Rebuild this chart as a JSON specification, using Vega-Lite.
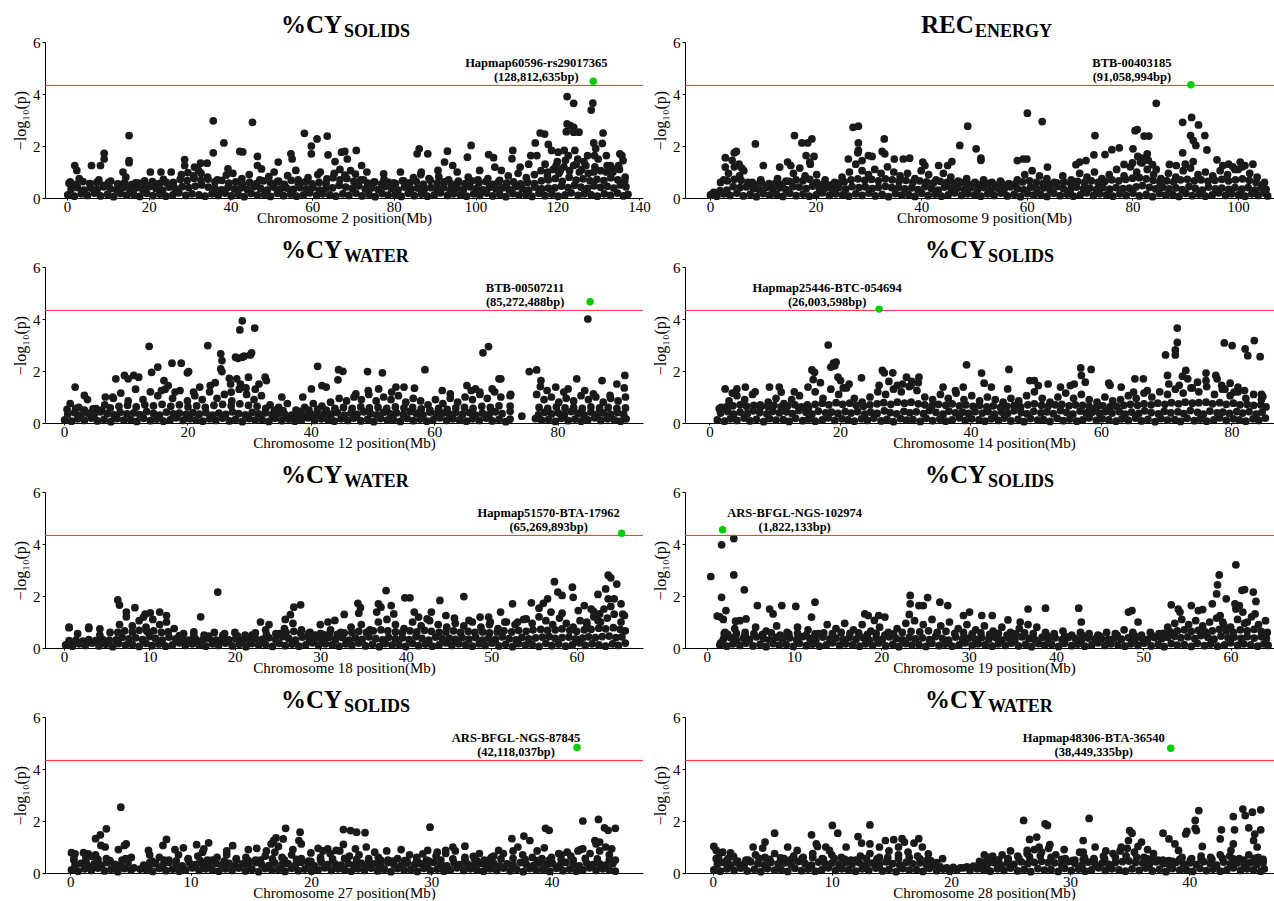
{
"$schema":"https://vega.github.io/schema/vega-lite/v6.json",
"background":"white",
"padding":{"left":12,"top":13,"right":0,"bottom":0},
"datasets":{
"c2":[
{"x":0.2,"y":0.12},{"x":1.8,"y":0.07},{"x":3.5,"y":0.16},{"x":5.0,"y":0.1},{"x":6.7,"y":0.19},{"x":8.2,"y":0.08},{"x":9.9,"y":0.14},{"x":11.4,"y":0.05},{"x":13.1,"y":0.17},{"x":14.6,"y":0.11},{"x":16.3,"y":0.13},{"x":17.8,"y":0.06},{"x":19.5,"y":0.18},{"x":21.0,"y":0.09},{"x":22.7,"y":0.15},{"x":24.2,"y":0.07},{"x":25.9,"y":0.12},{"x":27.4,"y":0.2},{"x":29.1,"y":0.1},{"x":30.6,"y":0.16},
{"x":32.3,"y":0.12},{"x":33.8,"y":0.07},{"x":35.5,"y":0.16},{"x":37.0,"y":0.1},{"x":38.7,"y":0.19},{"x":40.2,"y":0.08},{"x":41.9,"y":0.14},{"x":43.4,"y":0.05},{"x":45.1,"y":0.17},{"x":46.6,"y":0.11},{"x":48.3,"y":0.13},{"x":49.8,"y":0.06},{"x":51.5,"y":0.18},{"x":53.0,"y":0.09},{"x":54.7,"y":0.15},{"x":56.2,"y":0.07},{"x":57.9,"y":0.12},{"x":59.4,"y":0.2},{"x":61.1,"y":0.1},{"x":62.6,"y":0.16},
{"x":64.3,"y":0.12},{"x":65.8,"y":0.07},{"x":67.5,"y":0.16},{"x":69.0,"y":0.1},{"x":70.7,"y":0.19},{"x":72.2,"y":0.08},{"x":73.9,"y":0.14},{"x":75.4,"y":0.05},{"x":77.1,"y":0.17},{"x":78.6,"y":0.11},{"x":80.3,"y":0.13},{"x":81.8,"y":0.06},{"x":83.5,"y":0.18},{"x":85.0,"y":0.09},{"x":86.7,"y":0.15},{"x":88.2,"y":0.07},{"x":89.9,"y":0.12},{"x":91.4,"y":0.2},{"x":93.1,"y":0.1},{"x":94.6,"y":0.16},
{"x":96.3,"y":0.12},{"x":97.8,"y":0.07},{"x":99.5,"y":0.16},{"x":101.0,"y":0.1},{"x":102.7,"y":0.19},{"x":104.2,"y":0.08},{"x":105.9,"y":0.14},{"x":107.4,"y":0.05},{"x":109.1,"y":0.17},{"x":110.6,"y":0.11},{"x":112.3,"y":0.13},{"x":113.8,"y":0.06},{"x":115.5,"y":0.18},{"x":117.0,"y":0.09},{"x":118.7,"y":0.15},{"x":120.2,"y":0.07},{"x":121.9,"y":0.12},{"x":123.4,"y":0.2},{"x":125.1,"y":0.1},{"x":126.6,"y":0.16},
{"x":128.3,"y":0.12},{"x":129.8,"y":0.07},{"x":131.5,"y":0.16},{"x":133.0,"y":0.1},{"x":134.7,"y":0.19},{"x":136.2,"y":0.08},{"x":137.3,"y":0.14},
{"x":1.0,"y":0.34},{"x":2.6,"y":0.4},{"x":4.2,"y":0.3},{"x":5.8,"y":0.38},{"x":7.4,"y":0.33},{"x":9.0,"y":0.43},{"x":10.6,"y":0.36},{"x":12.2,"y":0.31},{"x":13.8,"y":0.41},{"x":15.4,"y":0.35},{"x":17.0,"y":0.39},{"x":18.6,"y":0.32},{"x":20.2,"y":0.44},{"x":21.8,"y":0.37},{"x":23.4,"y":0.3},{"x":25.0,"y":0.42},{"x":26.6,"y":0.35},{"x":28.2,"y":0.44},{"x":29.8,"y":0.4},{"x":31.4,"y":0.46},
{"x":33.0,"y":0.5},{"x":34.6,"y":0.42},{"x":36.2,"y":0.37},{"x":37.8,"y":0.31},{"x":39.4,"y":0.41},{"x":41.0,"y":0.35},{"x":42.6,"y":0.39},{"x":44.2,"y":0.32},{"x":45.8,"y":0.44},{"x":47.4,"y":0.37},{"x":49.0,"y":0.3},{"x":50.6,"y":0.42},{"x":52.2,"y":0.35},{"x":53.8,"y":0.38},{"x":55.4,"y":0.33},{"x":57.0,"y":0.4},{"x":58.6,"y":0.34},{"x":60.2,"y":0.4},{"x":61.8,"y":0.3},{"x":63.4,"y":0.38},
{"x":65.0,"y":0.39},{"x":66.6,"y":0.49},{"x":68.2,"y":0.42},{"x":69.8,"y":0.37},{"x":71.4,"y":0.47},{"x":73.0,"y":0.35},{"x":74.6,"y":0.39},{"x":76.2,"y":0.32},{"x":77.8,"y":0.44},{"x":79.4,"y":0.37},{"x":81.0,"y":0.3},{"x":82.6,"y":0.42},{"x":84.2,"y":0.35},{"x":85.8,"y":0.38},{"x":87.4,"y":0.33},{"x":89.0,"y":0.4},{"x":90.6,"y":0.34},{"x":92.2,"y":0.4},{"x":93.8,"y":0.3},{"x":95.4,"y":0.38},
{"x":97.0,"y":0.33},{"x":98.6,"y":0.43},{"x":100.2,"y":0.36},{"x":101.8,"y":0.31},{"x":103.4,"y":0.41},{"x":105.0,"y":0.35},{"x":106.6,"y":0.39},{"x":108.2,"y":0.32},{"x":109.8,"y":0.44},{"x":111.4,"y":0.37},{"x":113.0,"y":0.3},{"x":114.6,"y":0.42},{"x":116.2,"y":0.35},{"x":117.8,"y":0.38},{"x":119.4,"y":0.39},{"x":121.0,"y":0.46},{"x":122.6,"y":0.4},{"x":124.2,"y":0.49},{"x":125.8,"y":0.42},{"x":127.4,"y":0.37},
{"x":129.0,"y":0.47},{"x":130.6,"y":0.41},{"x":132.2,"y":0.45},{"x":133.8,"y":0.38},{"x":135.4,"y":0.5},{"x":136.8,"y":0.43},
{"x":0.5,"y":0.57},{"x":2.2,"y":0.52},{"x":3.9,"y":0.63},{"x":5.6,"y":0.55},{"x":7.3,"y":0.6},{"x":9.0,"y":0.49},{"x":10.7,"y":0.65},{"x":12.4,"y":0.54},{"x":14.1,"y":0.59},{"x":15.8,"y":0.51},{"x":17.5,"y":0.57},{"x":19.2,"y":0.52},{"x":20.9,"y":0.63},{"x":22.6,"y":0.55},{"x":24.3,"y":0.6},{"x":26.0,"y":0.49},{"x":27.7,"y":0.72},{"x":29.4,"y":0.67},{"x":31.1,"y":0.76},{"x":32.8,"y":0.68},
{"x":34.5,"y":0.73},{"x":36.2,"y":0.62},{"x":37.9,"y":0.68},{"x":39.6,"y":0.57},{"x":41.3,"y":0.62},{"x":43.0,"y":0.54},{"x":44.7,"y":0.6},{"x":46.4,"y":0.55},{"x":48.1,"y":0.66},{"x":49.8,"y":0.58},{"x":51.5,"y":0.63},{"x":53.2,"y":0.52},{"x":54.9,"y":0.68},{"x":56.6,"y":0.57},{"x":58.3,"y":0.62},{"x":60.0,"y":0.54},{"x":61.7,"y":0.6},{"x":63.4,"y":0.55},{"x":65.1,"y":0.78},{"x":66.8,"y":0.7},
{"x":68.5,"y":0.75},{"x":70.2,"y":0.64},{"x":71.9,"y":0.7},{"x":73.6,"y":0.57},{"x":75.3,"y":0.62},{"x":77.0,"y":0.54},{"x":78.7,"y":0.6},{"x":80.4,"y":0.55},{"x":82.1,"y":0.66},{"x":83.8,"y":0.58},{"x":85.5,"y":0.63},{"x":87.2,"y":0.52},{"x":88.9,"y":0.68},{"x":90.6,"y":0.57},{"x":92.3,"y":0.62},{"x":94.0,"y":0.54},{"x":95.7,"y":0.6},{"x":97.4,"y":0.55},{"x":99.1,"y":0.66},{"x":100.8,"y":0.58},
{"x":102.5,"y":0.63},{"x":104.2,"y":0.52},{"x":105.9,"y":0.68},{"x":107.6,"y":0.57},{"x":109.3,"y":0.62},{"x":111.0,"y":0.54},{"x":112.7,"y":0.6},{"x":114.4,"y":0.55},{"x":116.1,"y":0.66},{"x":117.8,"y":0.7},{"x":119.5,"y":0.75},{"x":121.2,"y":0.64},{"x":122.9,"y":0.8},{"x":124.6,"y":0.69},{"x":126.3,"y":0.74},{"x":128.0,"y":0.66},{"x":129.7,"y":0.72},{"x":131.4,"y":0.67},{"x":133.1,"y":0.78},{"x":134.8,"y":0.7},
{"x":136.5,"y":0.65},
{"x":0.8,"y":0.62},{"x":3.0,"y":0.75},{"x":5.6,"y":0.55},{"x":7.8,"y":0.7},{"x":10.2,"y":0.6},{"x":12.6,"y":0.52},{"x":14.4,"y":0.8},{"x":16.8,"y":0.58},{"x":19.0,"y":0.66},{"x":21.4,"y":0.55},{"x":23.6,"y":0.72},{"x":26.0,"y":0.6},{"x":28.0,"y":0.9},{"x":29.6,"y":0.98},{"x":31.0,"y":0.85},{"x":32.8,"y":0.95},{"x":34.4,"y":0.8},{"x":36.8,"y":0.7},{"x":39.0,"y":0.88},{"x":40.6,"y":0.95},
{"x":42.8,"y":0.75},{"x":44.6,"y":0.9},{"x":47.2,"y":0.7},{"x":49.4,"y":0.82},{"x":51.8,"y":0.65},{"x":54.0,"y":0.86},{"x":56.6,"y":0.7},{"x":59.0,"y":0.78},{"x":61.4,"y":0.9},{"x":63.6,"y":0.74},{"x":65.4,"y":0.95},{"x":66.8,"y":1.1},{"x":68.0,"y":0.88},{"x":69.4,"y":1.05},{"x":70.6,"y":0.92},{"x":72.6,"y":0.7},{"x":75.0,"y":0.6},{"x":77.6,"y":0.72},{"x":80.0,"y":0.58},{"x":82.4,"y":0.66},
{"x":84.8,"y":0.78},{"x":86.6,"y":0.9},{"x":88.6,"y":0.75},{"x":91.0,"y":0.82},{"x":93.4,"y":0.7},{"x":95.8,"y":0.65},{"x":98.2,"y":0.8},{"x":100.6,"y":0.7},{"x":103.0,"y":0.75},{"x":105.6,"y":0.62},{"x":108.0,"y":0.85},{"x":110.4,"y":0.95},{"x":112.4,"y":0.78},{"x":114.4,"y":0.9},{"x":116.0,"y":1.05},{"x":117.6,"y":0.85},{"x":119.0,"y":1.1},{"x":120.4,"y":0.95},{"x":121.6,"y":1.2},{"x":123.0,"y":1.05},
{"x":124.6,"y":1.3},{"x":126.0,"y":1.1},{"x":127.6,"y":0.95},{"x":129.2,"y":1.2},{"x":130.6,"y":1.05},{"x":132.2,"y":1.25},{"x":133.6,"y":1.0},{"x":135.2,"y":1.1},{"x":136.6,"y":0.8},
{"x":122.4,"y":3.9},{"x":124.0,"y":3.64},{"x":128.3,"y":3.38},{"x":128.7,"y":3.65},{"x":122.4,"y":2.85},{"x":123.2,"y":2.78},{"x":124.0,"y":2.72},{"x":122.2,"y":2.55},{"x":124.0,"y":2.53},{"x":125.3,"y":2.53},{"x":128.9,"y":2.12},{"x":129.4,"y":1.9},{"x":129.1,"y":1.63},{"x":131.2,"y":2.5},{"x":131.0,"y":2.1},{"x":115.8,"y":2.5},{"x":116.9,"y":2.46},{"x":114.6,"y":2.12},{"x":117.8,"y":2.06},{"x":120.2,"y":1.76},
{"x":35.8,"y":2.97},{"x":45.4,"y":2.91},{"x":15.2,"y":2.4},{"x":15.2,"y":1.44},{"x":15.2,"y":1.36},{"x":38.4,"y":2.12},{"x":35.8,"y":1.74},{"x":58.1,"y":2.49},{"x":61.2,"y":2.27},{"x":63.7,"y":2.38},{"x":63.9,"y":1.66},{"x":59.8,"y":2.0},{"x":59.8,"y":1.7},{"x":42.3,"y":1.79},{"x":43.0,"y":1.77},{"x":46.6,"y":1.6},{"x":46.6,"y":1.25},{"x":51.7,"y":1.38},{"x":54.8,"y":1.7},{"x":55.1,"y":1.5},
{"x":67.2,"y":1.76},{"x":68.0,"y":1.79},{"x":70.8,"y":1.83},{"x":72.1,"y":1.25},{"x":68.6,"y":1.5},{"x":65.6,"y":1.4},{"x":9.1,"y":1.72},{"x":9.1,"y":1.5},{"x":8.2,"y":1.25},{"x":1.9,"y":1.25},{"x":2.4,"y":1.06},{"x":28.8,"y":1.48},{"x":28.8,"y":1.25},{"x":31.2,"y":1.19},{"x":32.7,"y":1.34},{"x":34.3,"y":1.34},{"x":86.2,"y":1.89},{"x":85.7,"y":1.7},{"x":88.3,"y":1.7},{"x":93.1,"y":1.8},
{"x":92.4,"y":1.38},{"x":94.4,"y":1.25},{"x":98.0,"y":1.57},{"x":98.9,"y":2.02},{"x":103.2,"y":1.67},{"x":104.4,"y":1.55},{"x":104.7,"y":1.19},{"x":109.1,"y":1.83},{"x":108.9,"y":1.51},{"x":113.5,"y":1.63},{"x":115.0,"y":1.63},{"x":118.6,"y":1.83},{"x":135.3,"y":1.7},{"x":135.8,"y":1.63},{"x":136.1,"y":1.44},{"x":133.5,"y":1.12},{"x":121.7,"y":1.83},{"x":122.7,"y":1.63},{"x":124.3,"y":1.83},{"x":127.4,"y":1.63},
{"x":130.0,"y":1.5},{"x":132.0,"y":1.63},{"x":6.0,"y":1.25},{"x":23.0,"y":1.0},{"x":25.5,"y":1.0},{"x":32.2,"y":1.06},{"x":39.4,"y":1.12},{"x":47.6,"y":1.12},{"x":50.7,"y":1.0},{"x":56.0,"y":1.06},{"x":62.0,"y":1.0},{"x":73.4,"y":1.0},{"x":77.5,"y":0.93},{"x":81.6,"y":1.0},{"x":86.7,"y":1.0},{"x":90.8,"y":1.06},{"x":95.5,"y":1.0},{"x":101.0,"y":1.06},{"x":106.3,"y":1.06},{"x":110.9,"y":1.19},
{"x":113.0,"y":1.3},{"x":117.0,"y":1.3},{"x":119.7,"y":1.25},{"x":124.0,"y":1.25},{"x":127.0,"y":1.25},{"x":133.0,"y":1.25},{"x":135.0,"y":1.25},{"x":117.6,"y":1.0},{"x":120.7,"y":1.06},{"x":125.4,"y":1.0},{"x":128.9,"y":1.0},{"x":132.0,"y":1.0},{"x":13.7,"y":1.0},{"x":20.4,"y":1.0},{"x":122.0,"y":1.45},{"x":125.0,"y":1.5},{"x":120.0,"y":1.4},{"x":126.5,"y":1.4}
],
"c9":[
{"x":0.1,"y":0.12},{"x":1.3,"y":0.07},{"x":2.6,"y":0.16},{"x":3.8,"y":0.1},{"x":5.1,"y":0.19},{"x":6.3,"y":0.08},{"x":7.6,"y":0.14},{"x":8.8,"y":0.05},{"x":10.1,"y":0.17},{"x":11.3,"y":0.11},{"x":12.6,"y":0.13},{"x":13.8,"y":0.06},{"x":15.1,"y":0.18},{"x":16.3,"y":0.09},{"x":17.6,"y":0.15},{"x":18.8,"y":0.07},{"x":20.1,"y":0.12},{"x":21.3,"y":0.2},{"x":22.6,"y":0.1},{"x":23.8,"y":0.16},
{"x":25.1,"y":0.12},{"x":26.3,"y":0.07},{"x":27.6,"y":0.16},{"x":28.8,"y":0.1},{"x":30.1,"y":0.19},{"x":31.3,"y":0.08},{"x":32.6,"y":0.14},{"x":33.8,"y":0.05},{"x":35.1,"y":0.17},{"x":36.3,"y":0.11},{"x":37.6,"y":0.13},{"x":38.8,"y":0.06},{"x":40.1,"y":0.18},{"x":41.3,"y":0.09},{"x":42.6,"y":0.15},{"x":43.8,"y":0.07},{"x":45.1,"y":0.12},{"x":46.3,"y":0.2},{"x":47.6,"y":0.1},{"x":48.8,"y":0.16},
{"x":50.1,"y":0.12},{"x":51.3,"y":0.07},{"x":52.6,"y":0.16},{"x":53.8,"y":0.1},{"x":55.1,"y":0.19},{"x":56.3,"y":0.08},{"x":57.6,"y":0.14},{"x":58.8,"y":0.05},{"x":60.1,"y":0.17},{"x":61.3,"y":0.11},{"x":62.6,"y":0.13},{"x":63.8,"y":0.06},{"x":65.1,"y":0.18},{"x":66.3,"y":0.09},{"x":67.6,"y":0.15},{"x":68.8,"y":0.07},{"x":70.1,"y":0.12},{"x":71.3,"y":0.2},{"x":72.6,"y":0.1},{"x":73.8,"y":0.16},
{"x":75.1,"y":0.12},{"x":76.3,"y":0.07},{"x":77.6,"y":0.16},{"x":78.8,"y":0.1},{"x":80.1,"y":0.19},{"x":81.3,"y":0.08},{"x":82.6,"y":0.14},{"x":83.8,"y":0.05},{"x":85.1,"y":0.17},{"x":86.3,"y":0.11},{"x":87.6,"y":0.13},{"x":88.8,"y":0.06},{"x":90.1,"y":0.18},{"x":91.3,"y":0.09},{"x":92.6,"y":0.15},{"x":93.8,"y":0.07},{"x":95.1,"y":0.12},{"x":96.3,"y":0.2},{"x":97.6,"y":0.1},{"x":98.8,"y":0.16},
{"x":100.1,"y":0.12},{"x":101.3,"y":0.07},{"x":102.6,"y":0.16},{"x":103.8,"y":0.1},{"x":105.0,"y":0.19},{"x":105.6,"y":0.08},
{"x":0.7,"y":0.22},{"x":1.9,"y":0.28},{"x":3.2,"y":0.3},{"x":4.4,"y":0.44},{"x":5.7,"y":0.4},{"x":6.9,"y":0.43},{"x":8.2,"y":0.36},{"x":9.4,"y":0.31},{"x":10.7,"y":0.41},{"x":11.9,"y":0.35},{"x":13.2,"y":0.39},{"x":14.4,"y":0.32},{"x":15.7,"y":0.44},{"x":16.9,"y":0.42},{"x":18.2,"y":0.36},{"x":19.4,"y":0.46},{"x":20.7,"y":0.35},{"x":21.9,"y":0.38},{"x":23.2,"y":0.33},{"x":24.4,"y":0.4},
{"x":25.7,"y":0.34},{"x":26.9,"y":0.44},{"x":28.2,"y":0.4},{"x":29.4,"y":0.43},{"x":30.7,"y":0.36},{"x":31.9,"y":0.41},{"x":33.2,"y":0.45},{"x":34.4,"y":0.4},{"x":35.7,"y":0.41},{"x":36.9,"y":0.35},{"x":38.2,"y":0.39},{"x":39.4,"y":0.32},{"x":40.7,"y":0.44},{"x":41.9,"y":0.37},{"x":43.2,"y":0.3},{"x":44.4,"y":0.42},{"x":45.7,"y":0.35},{"x":46.9,"y":0.38},{"x":48.2,"y":0.33},{"x":49.4,"y":0.4},
{"x":50.7,"y":0.34},{"x":51.9,"y":0.4},{"x":53.2,"y":0.3},{"x":54.4,"y":0.38},{"x":55.7,"y":0.33},{"x":56.9,"y":0.43},{"x":58.2,"y":0.36},{"x":59.4,"y":0.31},{"x":60.7,"y":0.41},{"x":61.9,"y":0.35},{"x":63.2,"y":0.39},{"x":64.4,"y":0.32},{"x":65.7,"y":0.44},{"x":66.9,"y":0.37},{"x":68.2,"y":0.3},{"x":69.4,"y":0.42},{"x":70.7,"y":0.35},{"x":71.9,"y":0.38},{"x":73.2,"y":0.33},{"x":74.4,"y":0.4},
{"x":75.7,"y":0.34},{"x":76.9,"y":0.4},{"x":78.2,"y":0.36},{"x":79.4,"y":0.38},{"x":80.7,"y":0.43},{"x":81.9,"y":0.48},{"x":83.2,"y":0.41},{"x":84.4,"y":0.35},{"x":85.7,"y":0.41},{"x":86.9,"y":0.35},{"x":88.2,"y":0.39},{"x":89.4,"y":0.32},{"x":90.7,"y":0.44},{"x":91.9,"y":0.37},{"x":93.2,"y":0.3},{"x":94.4,"y":0.42},{"x":95.7,"y":0.35},{"x":96.9,"y":0.38},{"x":98.2,"y":0.33},{"x":99.4,"y":0.4},
{"x":100.7,"y":0.34},{"x":101.9,"y":0.4},{"x":103.2,"y":0.3},{"x":104.4,"y":0.38},{"x":105.3,"y":0.33},
{"x":2.0,"y":0.6},{"x":3.3,"y":0.66},{"x":4.6,"y":0.72},{"x":5.9,"y":0.68},{"x":7.2,"y":0.6},{"x":8.5,"y":0.52},{"x":9.8,"y":0.58},{"x":11.1,"y":0.5},{"x":12.4,"y":0.56},{"x":13.7,"y":0.52},{"x":15.0,"y":0.64},{"x":16.3,"y":0.7},{"x":17.6,"y":0.66},{"x":18.9,"y":0.72},{"x":20.2,"y":0.6},{"x":21.5,"y":0.55},{"x":22.8,"y":0.5},{"x":24.1,"y":0.56},{"x":25.4,"y":0.62},{"x":26.7,"y":0.7},
{"x":28.0,"y":0.74},{"x":29.3,"y":0.68},{"x":30.6,"y":0.72},{"x":31.9,"y":0.66},{"x":33.2,"y":0.74},{"x":34.5,"y":0.7},{"x":35.8,"y":0.64},{"x":37.1,"y":0.68},{"x":38.4,"y":0.6},{"x":39.7,"y":0.66},{"x":41.0,"y":0.62},{"x":42.3,"y":0.58},{"x":43.6,"y":0.64},{"x":44.9,"y":0.6},{"x":46.2,"y":0.56},{"x":47.5,"y":0.6},{"x":48.8,"y":0.54},{"x":50.1,"y":0.58},{"x":51.4,"y":0.52},{"x":52.7,"y":0.56},
{"x":54.0,"y":0.5},{"x":55.3,"y":0.55},{"x":56.6,"y":0.5},{"x":57.9,"y":0.56},{"x":59.2,"y":0.62},{"x":60.5,"y":0.66},{"x":61.8,"y":0.6},{"x":63.1,"y":0.56},{"x":64.4,"y":0.52},{"x":65.7,"y":0.58},{"x":67.0,"y":0.62},{"x":68.3,"y":0.56},{"x":69.6,"y":0.64},{"x":70.9,"y":0.6},{"x":72.2,"y":0.66},{"x":73.5,"y":0.6},{"x":74.8,"y":0.64},{"x":76.1,"y":0.7},{"x":77.4,"y":0.66},{"x":78.7,"y":0.72},
{"x":80.0,"y":0.76},{"x":81.3,"y":0.78},{"x":82.6,"y":0.74},{"x":83.9,"y":0.68},{"x":85.2,"y":0.6},{"x":86.5,"y":0.66},{"x":87.8,"y":0.62},{"x":89.1,"y":0.7},{"x":90.4,"y":0.72},{"x":91.7,"y":0.66},{"x":93.0,"y":0.7},{"x":94.3,"y":0.64},{"x":95.6,"y":0.68},{"x":96.9,"y":0.72},{"x":98.2,"y":0.66},{"x":99.5,"y":0.7},{"x":100.8,"y":0.74},{"x":102.1,"y":0.68},{"x":103.4,"y":0.6},{"x":104.7,"y":0.52},
{"x":2.6,"y":0.7},{"x":3.5,"y":0.95},{"x":4.6,"y":1.2},{"x":5.6,"y":0.85},{"x":6.4,"y":1.05},{"x":8.0,"y":0.6},{"x":9.6,"y":0.7},{"x":11.2,"y":0.55},{"x":12.8,"y":0.75},{"x":14.4,"y":0.65},{"x":15.8,"y":0.95},{"x":17.0,"y":1.15},{"x":18.0,"y":0.85},{"x":19.0,"y":1.3},{"x":20.2,"y":0.9},{"x":21.8,"y":0.7},{"x":23.6,"y":0.6},{"x":25.0,"y":0.8},{"x":26.4,"y":1.0},{"x":27.6,"y":1.3},
{"x":28.8,"y":1.05},{"x":30.0,"y":0.9},{"x":31.2,"y":1.1},{"x":32.4,"y":0.95},{"x":33.6,"y":1.2},{"x":34.8,"y":1.0},{"x":36.0,"y":0.85},{"x":37.4,"y":0.95},{"x":38.8,"y":0.75},{"x":40.0,"y":1.05},{"x":41.4,"y":0.9},{"x":42.8,"y":0.7},{"x":44.2,"y":0.95},{"x":45.6,"y":0.8},{"x":47.0,"y":0.65},{"x":48.6,"y":0.75},{"x":50.2,"y":0.6},{"x":51.8,"y":0.7},{"x":53.4,"y":0.6},{"x":55.0,"y":0.65},
{"x":56.6,"y":0.55},{"x":58.2,"y":0.7},{"x":59.6,"y":0.9},{"x":61.0,"y":1.05},{"x":62.4,"y":0.85},{"x":63.8,"y":0.75},{"x":65.2,"y":0.6},{"x":66.8,"y":0.85},{"x":68.4,"y":0.7},{"x":70.0,"y":0.95},{"x":71.4,"y":0.8},{"x":72.8,"y":1.0},{"x":74.2,"y":0.75},{"x":75.6,"y":0.9},{"x":77.0,"y":1.1},{"x":78.4,"y":0.85},{"x":79.6,"y":1.2},{"x":80.8,"y":1.0},{"x":81.8,"y":1.35},{"x":82.8,"y":1.1},
{"x":84.0,"y":0.9},{"x":85.4,"y":0.75},{"x":86.8,"y":0.95},{"x":88.2,"y":0.8},{"x":89.6,"y":1.05},{"x":91.0,"y":1.15},{"x":92.4,"y":0.9},{"x":93.8,"y":1.0},{"x":95.2,"y":0.85},{"x":96.6,"y":1.05},{"x":98.0,"y":0.9},{"x":99.4,"y":1.1},{"x":100.8,"y":1.2},{"x":102.2,"y":0.95},{"x":103.6,"y":0.8},{"x":105.0,"y":0.6},
{"x":84.5,"y":3.64},{"x":60.1,"y":3.26},{"x":62.9,"y":2.94},{"x":91.2,"y":3.1},{"x":89.5,"y":2.91},{"x":92.5,"y":2.81},{"x":91.0,"y":2.4},{"x":91.5,"y":2.21},{"x":92.0,"y":2.02},{"x":93.7,"y":2.4},{"x":94.1,"y":1.85},{"x":89.5,"y":1.74},{"x":80.5,"y":2.59},{"x":80.9,"y":2.63},{"x":82.2,"y":2.38},{"x":83.1,"y":2.38},{"x":80.1,"y":1.89},{"x":72.9,"y":2.4},{"x":72.7,"y":1.66},{"x":71.2,"y":1.44},
{"x":76.1,"y":1.86},{"x":77.5,"y":1.93},{"x":78.4,"y":1.29},{"x":74.8,"y":1.67},{"x":48.8,"y":2.76},{"x":47.3,"y":2.02},{"x":50.4,"y":1.89},{"x":51.3,"y":1.53},{"x":51.3,"y":1.45},{"x":27.1,"y":2.72},{"x":28.1,"y":2.76},{"x":28.1,"y":2.12},{"x":28.1,"y":1.83},{"x":28.0,"y":1.74},{"x":33.0,"y":2.27},{"x":32.6,"y":1.79},{"x":33.1,"y":1.7},{"x":16.0,"y":2.4},{"x":17.4,"y":2.12},{"x":18.5,"y":2.12},
{"x":19.3,"y":2.27},{"x":18.2,"y":1.63},{"x":19.7,"y":1.6},{"x":18.9,"y":1.38},{"x":8.6,"y":2.08},{"x":5.0,"y":1.79},{"x":4.6,"y":1.74},{"x":2.9,"y":1.55},{"x":2.9,"y":1.19},{"x":96.0,"y":1.47},{"x":98.2,"y":1.3},{"x":100.4,"y":1.38},{"x":97.1,"y":1.25},{"x":26.2,"y":1.5},{"x":30.0,"y":1.63},{"x":28.8,"y":1.44},{"x":30.7,"y":1.6},{"x":34.9,"y":1.5},{"x":36.6,"y":1.5},{"x":37.8,"y":1.53},
{"x":40.3,"y":1.38},{"x":40.7,"y":1.25},{"x":43.3,"y":1.25},{"x":45.8,"y":1.4},{"x":45.0,"y":1.25},{"x":58.2,"y":1.44},{"x":59.3,"y":1.5},{"x":60.0,"y":1.5},{"x":63.9,"y":1.19},{"x":69.3,"y":1.28},{"x":70.0,"y":1.38},{"x":10.1,"y":1.25},{"x":13.2,"y":1.19},{"x":14.7,"y":1.38},{"x":15.3,"y":1.25},{"x":87.0,"y":1.29},{"x":88.3,"y":1.25},{"x":83.8,"y":1.28},{"x":82.8,"y":1.7},{"x":81.5,"y":1.38},
{"x":81.8,"y":1.53},{"x":102.8,"y":1.3},{"x":101.3,"y":1.25},{"x":5.5,"y":1.3},{"x":6.0,"y":1.15},{"x":4.2,"y":1.45},{"x":81.0,"y":1.6},{"x":82.0,"y":1.5},{"x":83.0,"y":1.45},{"x":80.0,"y":1.35},{"x":84.5,"y":1.1},{"x":90.0,"y":1.3},{"x":91.5,"y":1.4},{"x":99.0,"y":1.2},{"x":100.0,"y":1.1}
],
"c12":[
{"x":0.1,"y":0.12},{"x":1.2,"y":0.07},{"x":2.2,"y":0.16},{"x":3.3,"y":0.1},{"x":4.4,"y":0.19},{"x":5.4,"y":0.08},{"x":6.5,"y":0.14},{"x":7.6,"y":0.05},{"x":8.6,"y":0.17},{"x":9.7,"y":0.11},{"x":10.8,"y":0.13},{"x":11.8,"y":0.06},{"x":12.9,"y":0.18},{"x":14.0,"y":0.09},{"x":15.0,"y":0.15},{"x":16.1,"y":0.07},{"x":17.2,"y":0.12},{"x":18.2,"y":0.2},{"x":19.3,"y":0.1},{"x":20.4,"y":0.16},
{"x":21.4,"y":0.12},{"x":22.5,"y":0.07},{"x":23.6,"y":0.16},{"x":24.6,"y":0.1},{"x":25.7,"y":0.19},{"x":26.8,"y":0.08},{"x":27.8,"y":0.14},{"x":28.9,"y":0.05},{"x":30.0,"y":0.17},{"x":31.0,"y":0.11},{"x":32.1,"y":0.13},{"x":33.2,"y":0.06},{"x":34.2,"y":0.18},{"x":35.3,"y":0.09},{"x":36.4,"y":0.15},{"x":37.4,"y":0.07},{"x":38.5,"y":0.12},{"x":39.6,"y":0.2},{"x":40.6,"y":0.1},{"x":41.7,"y":0.16},
{"x":42.8,"y":0.12},{"x":43.8,"y":0.07},{"x":44.9,"y":0.16},{"x":46.0,"y":0.1},{"x":47.0,"y":0.19},{"x":48.1,"y":0.08},{"x":49.2,"y":0.14},{"x":50.2,"y":0.05},{"x":51.3,"y":0.17},{"x":52.4,"y":0.11},{"x":53.4,"y":0.13},{"x":54.5,"y":0.06},{"x":55.6,"y":0.18},{"x":56.6,"y":0.09},{"x":57.7,"y":0.15},{"x":58.8,"y":0.07},{"x":59.8,"y":0.12},{"x":60.9,"y":0.2},{"x":62.0,"y":0.1},{"x":63.0,"y":0.16},
{"x":64.1,"y":0.12},{"x":65.2,"y":0.07},{"x":66.2,"y":0.16},{"x":67.3,"y":0.1},{"x":68.4,"y":0.19},{"x":69.4,"y":0.08},{"x":70.5,"y":0.14},{"x":71.6,"y":0.05},{"x":76.4,"y":0.17},{"x":77.4,"y":0.11},{"x":78.5,"y":0.13},{"x":79.6,"y":0.06},{"x":80.6,"y":0.18},{"x":81.7,"y":0.09},{"x":82.8,"y":0.15},{"x":83.8,"y":0.07},{"x":84.9,"y":0.12},{"x":86.0,"y":0.2},{"x":87.0,"y":0.1},{"x":88.1,"y":0.16},
{"x":89.2,"y":0.12},{"x":90.2,"y":0.07},{"x":91.1,"y":0.16},
{"x":0.6,"y":0.34},{"x":1.7,"y":0.4},{"x":2.7,"y":0.3},{"x":3.8,"y":0.38},{"x":4.9,"y":0.33},{"x":5.9,"y":0.43},{"x":7.0,"y":0.36},{"x":8.1,"y":0.31},{"x":9.1,"y":0.41},{"x":10.2,"y":0.35},{"x":11.3,"y":0.39},{"x":12.3,"y":0.32},{"x":13.4,"y":0.44},{"x":14.5,"y":0.37},{"x":15.5,"y":0.3},{"x":16.6,"y":0.42},{"x":17.7,"y":0.35},{"x":18.7,"y":0.38},{"x":19.8,"y":0.33},{"x":20.9,"y":0.4},
{"x":21.9,"y":0.34},{"x":23.0,"y":0.4},{"x":24.1,"y":0.3},{"x":25.1,"y":0.38},{"x":26.2,"y":0.33},{"x":27.3,"y":0.43},{"x":28.3,"y":0.36},{"x":29.4,"y":0.31},{"x":30.5,"y":0.41},{"x":31.5,"y":0.35},{"x":32.6,"y":0.39},{"x":33.7,"y":0.32},{"x":34.7,"y":0.36},{"x":35.8,"y":0.33},{"x":36.9,"y":0.3},{"x":37.9,"y":0.28},{"x":39.0,"y":0.3},{"x":40.1,"y":0.33},{"x":41.1,"y":0.3},{"x":42.2,"y":0.36},
{"x":43.3,"y":0.34},{"x":44.3,"y":0.4},{"x":45.4,"y":0.3},{"x":46.5,"y":0.38},{"x":47.5,"y":0.33},{"x":48.6,"y":0.43},{"x":49.7,"y":0.36},{"x":50.7,"y":0.31},{"x":51.8,"y":0.41},{"x":52.9,"y":0.35},{"x":53.9,"y":0.39},{"x":55.0,"y":0.32},{"x":56.1,"y":0.44},{"x":57.1,"y":0.37},{"x":58.2,"y":0.3},{"x":59.3,"y":0.42},{"x":60.3,"y":0.35},{"x":61.4,"y":0.38},{"x":62.5,"y":0.33},{"x":63.5,"y":0.4},
{"x":64.6,"y":0.34},{"x":65.7,"y":0.4},{"x":66.7,"y":0.3},{"x":67.8,"y":0.38},{"x":68.9,"y":0.33},{"x":69.9,"y":0.43},{"x":71.0,"y":0.36},{"x":76.9,"y":0.31},{"x":77.9,"y":0.41},{"x":79.0,"y":0.35},{"x":80.1,"y":0.39},{"x":81.1,"y":0.32},{"x":82.2,"y":0.44},{"x":83.3,"y":0.37},{"x":84.3,"y":0.3},{"x":85.4,"y":0.42},{"x":86.5,"y":0.35},{"x":87.5,"y":0.38},{"x":88.6,"y":0.33},{"x":89.7,"y":0.4},
{"x":90.7,"y":0.34},
{"x":0.5,"y":0.52},{"x":1.9,"y":0.56},{"x":3.3,"y":0.5},{"x":4.7,"y":0.54},{"x":6.1,"y":0.5},{"x":7.5,"y":0.58},{"x":8.9,"y":0.64},{"x":10.3,"y":0.68},{"x":11.7,"y":0.62},{"x":13.1,"y":0.7},{"x":14.5,"y":0.66},{"x":15.9,"y":0.72},{"x":17.3,"y":0.64},{"x":18.7,"y":0.7},{"x":20.1,"y":0.62},{"x":21.5,"y":0.66},{"x":22.9,"y":0.6},{"x":24.3,"y":0.68},{"x":25.7,"y":0.72},{"x":27.1,"y":0.66},
{"x":28.5,"y":0.74},{"x":29.9,"y":0.68},{"x":31.3,"y":0.64},{"x":32.7,"y":0.56},{"x":34.1,"y":0.5},{"x":35.5,"y":0.48},{"x":38.3,"y":0.45},{"x":39.7,"y":0.5},{"x":41.1,"y":0.52},{"x":42.5,"y":0.5},{"x":43.9,"y":0.56},{"x":45.3,"y":0.6},{"x":46.7,"y":0.56},{"x":48.1,"y":0.62},{"x":49.5,"y":0.58},{"x":50.9,"y":0.6},{"x":52.3,"y":0.56},{"x":53.7,"y":0.62},{"x":55.1,"y":0.58},{"x":56.5,"y":0.6},
{"x":57.9,"y":0.54},{"x":59.3,"y":0.5},{"x":60.7,"y":0.56},{"x":62.1,"y":0.52},{"x":63.5,"y":0.58},{"x":64.9,"y":0.6},{"x":66.3,"y":0.56},{"x":67.7,"y":0.64},{"x":69.1,"y":0.6},{"x":70.5,"y":0.66},{"x":77.0,"y":0.6},{"x":78.4,"y":0.56},{"x":79.8,"y":0.62},{"x":81.2,"y":0.58},{"x":82.6,"y":0.6},{"x":84.0,"y":0.56},{"x":85.4,"y":0.62},{"x":86.8,"y":0.58},{"x":88.2,"y":0.6},{"x":89.6,"y":0.56},
{"x":91.0,"y":0.58},
{"x":1.0,"y":0.75},{"x":2.4,"y":0.6},{"x":3.8,"y":0.9},{"x":5.2,"y":0.55},{"x":6.6,"y":0.7},{"x":8.0,"y":0.95},{"x":9.2,"y":1.15},{"x":10.4,"y":0.85},{"x":11.6,"y":1.3},{"x":12.8,"y":0.9},{"x":14.0,"y":1.2},{"x":15.2,"y":1.05},{"x":16.4,"y":1.3},{"x":17.6,"y":0.95},{"x":18.8,"y":1.25},{"x":20.0,"y":0.85},{"x":21.2,"y":1.05},{"x":22.4,"y":0.9},{"x":23.6,"y":1.2},{"x":24.8,"y":0.95},
{"x":26.0,"y":1.1},{"x":27.2,"y":0.85},{"x":28.4,"y":1.3},{"x":29.6,"y":1.1},{"x":30.8,"y":0.9},{"x":32.0,"y":1.05},{"x":33.4,"y":0.7},{"x":34.8,"y":0.6},{"x":36.2,"y":0.75},{"x":37.6,"y":0.5},{"x":39.0,"y":0.6},{"x":40.4,"y":0.75},{"x":41.8,"y":0.65},{"x":43.2,"y":0.8},{"x":44.6,"y":0.95},{"x":45.8,"y":0.85},{"x":47.0,"y":1.0},{"x":48.2,"y":0.9},{"x":49.4,"y":1.1},{"x":50.6,"y":0.85},
{"x":51.8,"y":1.0},{"x":53.0,"y":0.9},{"x":54.2,"y":1.05},{"x":55.4,"y":0.8},{"x":56.6,"y":0.95},{"x":57.8,"y":0.85},{"x":59.0,"y":0.7},{"x":60.2,"y":0.9},{"x":61.4,"y":0.75},{"x":62.6,"y":0.95},{"x":63.8,"y":0.8},{"x":65.0,"y":1.0},{"x":66.2,"y":0.9},{"x":67.4,"y":1.1},{"x":68.6,"y":0.95},{"x":69.8,"y":1.2},{"x":70.8,"y":1.0},{"x":76.6,"y":1.1},{"x":77.8,"y":0.9},{"x":79.0,"y":1.0},
{"x":80.2,"y":0.8},{"x":81.4,"y":0.95},{"x":82.6,"y":0.85},{"x":83.8,"y":1.05},{"x":85.0,"y":0.9},{"x":86.2,"y":1.0},{"x":87.4,"y":0.8},{"x":88.6,"y":0.95},{"x":89.8,"y":0.85},{"x":91.0,"y":1.0},
{"x":84.9,"y":4.0},{"x":28.9,"y":3.93},{"x":28.5,"y":3.58},{"x":30.9,"y":3.65},{"x":13.8,"y":2.95},{"x":23.3,"y":2.98},{"x":30.4,"y":2.7},{"x":30.2,"y":2.62},{"x":25.4,"y":2.66},{"x":25.6,"y":2.4},{"x":25.4,"y":2.08},{"x":25.6,"y":1.98},{"x":27.8,"y":2.53},{"x":28.2,"y":2.49},{"x":28.9,"y":2.53},{"x":29.2,"y":2.57},{"x":67.9,"y":2.7},{"x":68.8,"y":2.94},{"x":17.5,"y":2.3},{"x":19.0,"y":2.3},
{"x":20.0,"y":1.93},{"x":20.2,"y":1.98},{"x":15.2,"y":2.15},{"x":14.2,"y":1.95},{"x":26.8,"y":1.72},{"x":29.9,"y":1.76},{"x":32.6,"y":1.76},{"x":32.8,"y":1.63},{"x":41.1,"y":2.18},{"x":41.8,"y":1.44},{"x":42.5,"y":1.38},{"x":44.5,"y":2.05},{"x":45.2,"y":1.99},{"x":44.4,"y":1.66},{"x":49.2,"y":1.98},{"x":51.6,"y":1.93},{"x":58.5,"y":2.05},{"x":56.8,"y":1.34},{"x":75.4,"y":1.98},{"x":76.6,"y":2.04},
{"x":77.3,"y":1.63},{"x":77.2,"y":1.4},{"x":83.1,"y":1.7},{"x":87.2,"y":1.63},{"x":89.6,"y":1.5},{"x":90.9,"y":1.83},{"x":90.8,"y":1.35},{"x":70.5,"y":1.7},{"x":70.8,"y":1.7},{"x":65.3,"y":1.44},{"x":66.7,"y":1.31},{"x":81.7,"y":1.31},{"x":9.8,"y":1.83},{"x":10.4,"y":1.7},{"x":11.3,"y":1.83},{"x":12.1,"y":1.76},{"x":8.4,"y":1.7},{"x":1.8,"y":1.38},{"x":3.3,"y":1.06},{"x":6.7,"y":1.0},
{"x":7.9,"y":1.0},{"x":15.8,"y":1.25},{"x":16.2,"y":1.63},{"x":16.9,"y":1.44},{"x":18.0,"y":1.19},{"x":21.0,"y":1.19},{"x":22.0,"y":1.38},{"x":23.7,"y":1.44},{"x":27.1,"y":1.19},{"x":31.6,"y":1.5},{"x":35.3,"y":1.0},{"x":38.7,"y":1.0},{"x":40.1,"y":1.31},{"x":47.3,"y":1.12},{"x":49.3,"y":1.25},{"x":51.0,"y":1.31},{"x":53.1,"y":1.19},{"x":53.8,"y":1.38},{"x":55.1,"y":1.38},{"x":61.3,"y":1.25},
{"x":62.6,"y":1.12},{"x":66.0,"y":1.25},{"x":67.4,"y":1.19},{"x":69.4,"y":1.31},{"x":78.3,"y":1.25},{"x":79.7,"y":1.38},{"x":81.0,"y":1.19},{"x":84.4,"y":1.25},{"x":85.8,"y":1.12},{"x":88.5,"y":1.06},{"x":74.2,"y":0.26},{"x":72.3,"y":0.15},{"x":72.3,"y":0.45},{"x":72.3,"y":0.65},{"x":72.3,"y":1.05},{"x":72.4,"y":1.1},{"x":28.0,"y":1.7},{"x":28.6,"y":1.5},{"x":29.5,"y":1.35},{"x":27.0,"y":1.5},
{"x":24.5,"y":1.55},{"x":31.0,"y":1.3}
],
"c14":[
{"x":1.2,"y":0.12},{"x":2.3,"y":0.07},{"x":3.2,"y":0.16},{"x":4.2,"y":0.1},{"x":5.3,"y":0.19},{"x":6.2,"y":0.08},{"x":7.2,"y":0.14},{"x":8.3,"y":0.05},{"x":9.2,"y":0.17},{"x":10.2,"y":0.11},{"x":11.3,"y":0.13},{"x":12.2,"y":0.06},{"x":13.2,"y":0.18},{"x":14.3,"y":0.09},{"x":15.2,"y":0.15},{"x":16.2,"y":0.07},{"x":17.3,"y":0.12},{"x":18.2,"y":0.2},{"x":19.2,"y":0.1},{"x":20.3,"y":0.16},
{"x":21.2,"y":0.12},{"x":22.2,"y":0.07},{"x":23.3,"y":0.16},{"x":24.2,"y":0.1},{"x":25.2,"y":0.19},{"x":26.3,"y":0.08},{"x":27.2,"y":0.14},{"x":28.2,"y":0.05},{"x":29.3,"y":0.17},{"x":30.2,"y":0.11},{"x":31.2,"y":0.13},{"x":32.3,"y":0.06},{"x":33.2,"y":0.18},{"x":34.2,"y":0.09},{"x":35.3,"y":0.15},{"x":36.2,"y":0.07},{"x":37.2,"y":0.12},{"x":38.3,"y":0.2},{"x":39.2,"y":0.1},{"x":40.2,"y":0.16},
{"x":41.3,"y":0.12},{"x":42.2,"y":0.07},{"x":43.2,"y":0.16},{"x":44.3,"y":0.1},{"x":45.2,"y":0.19},{"x":46.2,"y":0.08},{"x":47.3,"y":0.14},{"x":48.2,"y":0.05},{"x":49.2,"y":0.17},{"x":50.3,"y":0.11},{"x":51.2,"y":0.13},{"x":52.2,"y":0.06},{"x":53.3,"y":0.18},{"x":54.2,"y":0.09},{"x":55.2,"y":0.15},{"x":56.3,"y":0.07},{"x":57.2,"y":0.12},{"x":58.2,"y":0.2},{"x":59.3,"y":0.1},{"x":60.2,"y":0.16},
{"x":61.2,"y":0.12},{"x":62.3,"y":0.07},{"x":63.2,"y":0.16},{"x":64.2,"y":0.1},{"x":65.3,"y":0.19},{"x":66.2,"y":0.08},{"x":67.2,"y":0.14},{"x":68.3,"y":0.05},{"x":69.2,"y":0.17},{"x":70.2,"y":0.11},{"x":71.3,"y":0.13},{"x":72.2,"y":0.06},{"x":73.2,"y":0.18},{"x":74.3,"y":0.09},{"x":75.2,"y":0.15},{"x":76.2,"y":0.07},{"x":77.3,"y":0.12},{"x":78.2,"y":0.2},{"x":79.2,"y":0.1},{"x":80.3,"y":0.16},
{"x":81.2,"y":0.12},{"x":82.2,"y":0.07},{"x":83.3,"y":0.16},{"x":84.2,"y":0.1},{"x":85.2,"y":0.19},
{"x":1.7,"y":0.38},{"x":2.8,"y":0.44},{"x":3.7,"y":0.34},{"x":4.7,"y":0.42},{"x":5.8,"y":0.37},{"x":6.7,"y":0.47},{"x":7.7,"y":0.4},{"x":8.8,"y":0.35},{"x":9.7,"y":0.45},{"x":10.7,"y":0.39},{"x":11.8,"y":0.43},{"x":12.7,"y":0.36},{"x":13.7,"y":0.48},{"x":14.8,"y":0.41},{"x":15.7,"y":0.34},{"x":16.7,"y":0.46},{"x":17.8,"y":0.39},{"x":18.7,"y":0.42},{"x":19.7,"y":0.37},{"x":20.8,"y":0.44},
{"x":21.7,"y":0.38},{"x":22.7,"y":0.44},{"x":23.8,"y":0.34},{"x":24.7,"y":0.42},{"x":25.7,"y":0.37},{"x":26.8,"y":0.47},{"x":27.7,"y":0.4},{"x":28.7,"y":0.35},{"x":29.8,"y":0.45},{"x":30.7,"y":0.39},{"x":31.7,"y":0.43},{"x":32.8,"y":0.36},{"x":33.7,"y":0.48},{"x":34.7,"y":0.41},{"x":35.8,"y":0.34},{"x":36.7,"y":0.46},{"x":37.7,"y":0.39},{"x":38.8,"y":0.42},{"x":39.7,"y":0.37},{"x":40.7,"y":0.44},
{"x":41.8,"y":0.38},{"x":42.7,"y":0.44},{"x":43.7,"y":0.34},{"x":44.8,"y":0.42},{"x":45.7,"y":0.37},{"x":46.7,"y":0.47},{"x":47.8,"y":0.4},{"x":48.7,"y":0.35},{"x":49.7,"y":0.45},{"x":50.8,"y":0.39},{"x":51.7,"y":0.43},{"x":52.7,"y":0.36},{"x":53.8,"y":0.48},{"x":54.7,"y":0.41},{"x":55.7,"y":0.34},{"x":56.8,"y":0.46},{"x":57.7,"y":0.39},{"x":58.7,"y":0.42},{"x":59.8,"y":0.37},{"x":60.7,"y":0.44},
{"x":61.7,"y":0.38},{"x":62.8,"y":0.44},{"x":63.7,"y":0.34},{"x":64.7,"y":0.42},{"x":65.8,"y":0.37},{"x":66.7,"y":0.47},{"x":67.7,"y":0.4},{"x":68.8,"y":0.35},{"x":69.7,"y":0.45},{"x":70.7,"y":0.39},{"x":71.8,"y":0.43},{"x":72.7,"y":0.36},{"x":73.7,"y":0.48},{"x":74.8,"y":0.41},{"x":75.7,"y":0.34},{"x":76.7,"y":0.46},{"x":77.8,"y":0.39},{"x":78.7,"y":0.42},{"x":79.7,"y":0.37},{"x":80.8,"y":0.44},
{"x":81.7,"y":0.38},{"x":82.7,"y":0.44},{"x":83.8,"y":0.34},{"x":84.7,"y":0.42},
{"x":1.5,"y":0.55},{"x":2.6,"y":0.62},{"x":3.6,"y":0.66},{"x":4.7,"y":0.7},{"x":5.7,"y":0.64},{"x":6.8,"y":0.68},{"x":7.8,"y":0.6},{"x":8.9,"y":0.64},{"x":9.9,"y":0.68},{"x":11.0,"y":0.62},{"x":12.0,"y":0.66},{"x":13.1,"y":0.7},{"x":14.1,"y":0.62},{"x":15.2,"y":0.6},{"x":16.2,"y":0.72},{"x":17.3,"y":0.76},{"x":18.3,"y":0.7},{"x":19.4,"y":0.78},{"x":20.4,"y":0.72},{"x":21.5,"y":0.76},
{"x":22.5,"y":0.68},{"x":23.6,"y":0.64},{"x":24.6,"y":0.7},{"x":25.7,"y":0.74},{"x":26.7,"y":0.78},{"x":27.8,"y":0.72},{"x":28.8,"y":0.8},{"x":29.9,"y":0.76},{"x":30.9,"y":0.8},{"x":32.0,"y":0.74},{"x":33.0,"y":0.7},{"x":34.1,"y":0.66},{"x":35.1,"y":0.72},{"x":36.2,"y":0.68},{"x":37.2,"y":0.74},{"x":38.3,"y":0.66},{"x":39.3,"y":0.7},{"x":40.4,"y":0.64},{"x":41.4,"y":0.68},{"x":42.5,"y":0.62},
{"x":43.5,"y":0.66},{"x":44.6,"y":0.6},{"x":45.6,"y":0.64},{"x":46.7,"y":0.68},{"x":47.7,"y":0.62},{"x":48.8,"y":0.7},{"x":49.8,"y":0.74},{"x":50.9,"y":0.68},{"x":51.9,"y":0.64},{"x":53.0,"y":0.7},{"x":54.0,"y":0.72},{"x":55.1,"y":0.66},{"x":56.1,"y":0.7},{"x":57.2,"y":0.68},{"x":58.2,"y":0.64},{"x":59.3,"y":0.6},{"x":60.3,"y":0.66},{"x":61.4,"y":0.62},{"x":62.4,"y":0.64},{"x":63.5,"y":0.68},
{"x":64.5,"y":0.72},{"x":65.6,"y":0.68},{"x":66.6,"y":0.74},{"x":67.7,"y":0.7},{"x":68.7,"y":0.76},{"x":69.8,"y":0.72},{"x":70.8,"y":0.78},{"x":71.9,"y":0.74},{"x":72.9,"y":0.8},{"x":74.0,"y":0.76},{"x":75.0,"y":0.78},{"x":76.1,"y":0.8},{"x":77.1,"y":0.74},{"x":78.2,"y":0.78},{"x":79.2,"y":0.72},{"x":80.3,"y":0.76},{"x":81.3,"y":0.7},{"x":82.4,"y":0.72},{"x":83.4,"y":0.68},{"x":84.5,"y":0.7},
{"x":85.3,"y":0.62},
{"x":1.8,"y":0.6},{"x":3.0,"y":0.85},{"x":4.2,"y":1.05},{"x":5.4,"y":0.9},{"x":6.6,"y":1.1},{"x":7.8,"y":0.7},{"x":9.0,"y":0.8},{"x":10.2,"y":0.95},{"x":11.4,"y":0.75},{"x":12.6,"y":0.9},{"x":13.8,"y":1.05},{"x":15.0,"y":0.7},{"x":16.2,"y":1.2},{"x":17.4,"y":0.95},{"x":18.6,"y":1.3},{"x":19.8,"y":1.1},{"x":21.0,"y":1.35},{"x":22.2,"y":0.95},{"x":23.4,"y":0.8},{"x":24.6,"y":1.0},
{"x":25.8,"y":1.2},{"x":27.0,"y":1.1},{"x":28.2,"y":1.3},{"x":29.4,"y":1.2},{"x":30.6,"y":1.4},{"x":31.8,"y":1.25},{"x":33.0,"y":1.0},{"x":34.2,"y":0.9},{"x":35.4,"y":1.1},{"x":36.6,"y":0.95},{"x":37.8,"y":1.15},{"x":39.0,"y":0.9},{"x":40.2,"y":1.05},{"x":41.4,"y":0.85},{"x":42.6,"y":1.0},{"x":43.8,"y":0.9},{"x":45.0,"y":0.8},{"x":46.2,"y":0.95},{"x":47.4,"y":0.85},{"x":48.6,"y":1.05},
{"x":49.8,"y":1.2},{"x":51.0,"y":0.95},{"x":52.2,"y":0.8},{"x":53.4,"y":1.0},{"x":54.6,"y":1.15},{"x":55.8,"y":0.95},{"x":57.0,"y":1.1},{"x":58.2,"y":0.9},{"x":59.4,"y":0.8},{"x":60.6,"y":1.0},{"x":61.8,"y":0.85},{"x":63.0,"y":0.9},{"x":64.2,"y":1.05},{"x":65.4,"y":0.95},{"x":66.6,"y":1.15},{"x":67.8,"y":1.0},{"x":69.0,"y":1.2},{"x":70.2,"y":1.1},{"x":71.4,"y":1.3},{"x":72.6,"y":1.15},
{"x":73.8,"y":1.35},{"x":75.0,"y":1.2},{"x":76.2,"y":1.4},{"x":77.4,"y":1.1},{"x":78.6,"y":1.3},{"x":79.8,"y":1.05},{"x":81.0,"y":1.2},{"x":82.2,"y":0.95},{"x":83.4,"y":1.1},{"x":84.6,"y":0.9},
{"x":71.7,"y":3.65},{"x":71.7,"y":3.1},{"x":71.4,"y":2.81},{"x":71.4,"y":2.62},{"x":69.9,"y":2.62},{"x":78.9,"y":3.08},{"x":80.1,"y":2.98},{"x":82.1,"y":2.85},{"x":82.5,"y":2.59},{"x":83.5,"y":3.17},{"x":84.4,"y":2.55},{"x":18.2,"y":3.0},{"x":19.0,"y":2.3},{"x":19.4,"y":2.34},{"x":18.6,"y":2.15},{"x":19.2,"y":2.2},{"x":39.4,"y":2.24},{"x":41.7,"y":1.92},{"x":45.9,"y":2.06},{"x":42.1,"y":1.53},
{"x":56.9,"y":2.12},{"x":58.5,"y":2.06},{"x":57.0,"y":1.83},{"x":57.6,"y":1.57},{"x":26.5,"y":2.02},{"x":26.8,"y":1.93},{"x":28.1,"y":1.93},{"x":23.3,"y":1.74},{"x":15.7,"y":2.04},{"x":16.1,"y":1.95},{"x":15.9,"y":1.67},{"x":15.1,"y":1.38},{"x":19.7,"y":1.76},{"x":20.1,"y":1.63},{"x":21.4,"y":1.5},{"x":30.2,"y":1.76},{"x":32.1,"y":1.76},{"x":32.0,"y":1.55},{"x":29.6,"y":1.5},{"x":30.9,"y":1.44},
{"x":49.1,"y":1.63},{"x":49.8,"y":1.63},{"x":50.4,"y":1.44},{"x":45.7,"y":1.31},{"x":61.2,"y":1.53},{"x":61.4,"y":1.45},{"x":65.2,"y":1.7},{"x":66.5,"y":1.7},{"x":65.0,"y":1.19},{"x":67.1,"y":1.25},{"x":70.2,"y":1.83},{"x":70.4,"y":1.5},{"x":73.0,"y":2.02},{"x":73.3,"y":1.7},{"x":72.5,"y":1.8},{"x":76.1,"y":1.92},{"x":76.1,"y":1.63},{"x":74.8,"y":1.57},{"x":77.6,"y":1.83},{"x":77.8,"y":1.7},
{"x":79.8,"y":1.53},{"x":81.0,"y":1.38},{"x":82.0,"y":1.25},{"x":84.8,"y":1.02},{"x":84.6,"y":1.1},{"x":51.9,"y":1.5},{"x":53.8,"y":1.38},{"x":55.3,"y":1.44},{"x":55.9,"y":1.5},{"x":9.2,"y":1.38},{"x":10.7,"y":1.38},{"x":11.0,"y":1.19},{"x":2.4,"y":1.31},{"x":4.2,"y":1.31},{"x":5.5,"y":1.38},{"x":35.8,"y":1.38},{"x":37.7,"y":1.25},{"x":38.9,"y":1.38},{"x":43.2,"y":1.38},{"x":63.1,"y":1.38},
{"x":80.4,"y":1.19},{"x":72.0,"y":1.45},{"x":74.0,"y":1.35},{"x":78.5,"y":1.45},{"x":79.0,"y":1.3},{"x":26.0,"y":1.45},{"x":27.5,"y":1.6},{"x":28.8,"y":1.45},{"x":31.0,"y":1.6},{"x":17.0,"y":1.55},{"x":20.5,"y":1.35},{"x":13.0,"y":1.2},{"x":7.0,"y":1.2},{"x":3.5,"y":1.15}
],
"c18":[
{"x":0.2,"y":0.12},{"x":1.0,"y":0.07},{"x":1.8,"y":0.16},{"x":2.5,"y":0.1},{"x":3.3,"y":0.19},{"x":4.1,"y":0.08},{"x":4.9,"y":0.14},{"x":5.7,"y":0.05},{"x":6.4,"y":0.17},{"x":7.2,"y":0.11},{"x":8.0,"y":0.13},{"x":8.8,"y":0.06},{"x":9.6,"y":0.18},{"x":10.3,"y":0.09},{"x":11.1,"y":0.15},{"x":11.9,"y":0.07},{"x":12.7,"y":0.12},{"x":13.5,"y":0.2},{"x":14.2,"y":0.1},{"x":15.0,"y":0.16},
{"x":15.8,"y":0.12},{"x":16.6,"y":0.07},{"x":17.4,"y":0.16},{"x":18.1,"y":0.1},{"x":18.9,"y":0.19},{"x":19.7,"y":0.08},{"x":20.5,"y":0.14},{"x":21.3,"y":0.05},{"x":22.0,"y":0.17},{"x":22.8,"y":0.11},{"x":23.6,"y":0.13},{"x":24.4,"y":0.06},{"x":25.2,"y":0.18},{"x":25.9,"y":0.09},{"x":26.7,"y":0.15},{"x":27.5,"y":0.07},{"x":28.3,"y":0.12},{"x":29.1,"y":0.2},{"x":29.8,"y":0.1},{"x":30.6,"y":0.16},
{"x":31.4,"y":0.12},{"x":32.2,"y":0.07},{"x":33.0,"y":0.16},{"x":33.7,"y":0.1},{"x":34.5,"y":0.19},{"x":35.3,"y":0.08},{"x":36.1,"y":0.14},{"x":36.9,"y":0.05},{"x":37.6,"y":0.17},{"x":38.4,"y":0.11},{"x":39.2,"y":0.13},{"x":40.0,"y":0.06},{"x":40.8,"y":0.18},{"x":41.5,"y":0.09},{"x":42.3,"y":0.15},{"x":43.1,"y":0.07},{"x":43.9,"y":0.12},{"x":44.7,"y":0.2},{"x":45.4,"y":0.1},{"x":46.2,"y":0.16},
{"x":47.0,"y":0.12},{"x":47.8,"y":0.07},{"x":48.6,"y":0.16},{"x":49.3,"y":0.1},{"x":50.1,"y":0.19},{"x":50.9,"y":0.08},{"x":51.7,"y":0.14},{"x":52.5,"y":0.05},{"x":53.2,"y":0.17},{"x":54.0,"y":0.11},{"x":54.8,"y":0.13},{"x":55.6,"y":0.06},{"x":56.4,"y":0.18},{"x":57.1,"y":0.09},{"x":57.9,"y":0.15},{"x":58.7,"y":0.07},{"x":59.5,"y":0.12},{"x":60.3,"y":0.2},{"x":61.0,"y":0.1},{"x":61.8,"y":0.16},
{"x":62.6,"y":0.12},{"x":63.4,"y":0.07},{"x":64.2,"y":0.16},{"x":64.9,"y":0.1},{"x":65.7,"y":0.19},
{"x":0.6,"y":0.28},{"x":1.4,"y":0.3},{"x":2.2,"y":0.26},{"x":2.9,"y":0.32},{"x":3.7,"y":0.28},{"x":4.5,"y":0.33},{"x":5.3,"y":0.3},{"x":6.1,"y":0.31},{"x":6.8,"y":0.41},{"x":7.6,"y":0.35},{"x":8.4,"y":0.39},{"x":9.2,"y":0.32},{"x":10.0,"y":0.44},{"x":10.7,"y":0.37},{"x":11.5,"y":0.3},{"x":12.3,"y":0.42},{"x":13.1,"y":0.35},{"x":13.9,"y":0.33},{"x":14.6,"y":0.3},{"x":15.4,"y":0.34},
{"x":16.2,"y":0.3},{"x":17.0,"y":0.36},{"x":17.8,"y":0.3},{"x":18.5,"y":0.34},{"x":19.3,"y":0.31},{"x":20.1,"y":0.36},{"x":20.9,"y":0.3},{"x":21.7,"y":0.31},{"x":22.4,"y":0.36},{"x":23.2,"y":0.33},{"x":24.0,"y":0.39},{"x":24.8,"y":0.32},{"x":25.6,"y":0.44},{"x":26.3,"y":0.37},{"x":27.1,"y":0.3},{"x":27.9,"y":0.42},{"x":28.7,"y":0.35},{"x":29.5,"y":0.38},{"x":30.2,"y":0.33},{"x":31.0,"y":0.4},
{"x":31.8,"y":0.34},{"x":32.6,"y":0.4},{"x":33.4,"y":0.3},{"x":34.1,"y":0.38},{"x":34.9,"y":0.33},{"x":35.7,"y":0.43},{"x":36.5,"y":0.36},{"x":37.3,"y":0.31},{"x":38.0,"y":0.41},{"x":38.8,"y":0.35},{"x":39.6,"y":0.39},{"x":40.4,"y":0.32},{"x":41.2,"y":0.44},{"x":41.9,"y":0.37},{"x":42.7,"y":0.3},{"x":43.5,"y":0.42},{"x":44.3,"y":0.35},{"x":45.1,"y":0.38},{"x":45.8,"y":0.33},{"x":46.6,"y":0.4},
{"x":47.4,"y":0.34},{"x":48.2,"y":0.4},{"x":49.0,"y":0.3},{"x":49.7,"y":0.38},{"x":50.5,"y":0.33},{"x":51.3,"y":0.43},{"x":52.1,"y":0.36},{"x":52.9,"y":0.31},{"x":53.6,"y":0.41},{"x":54.4,"y":0.35},{"x":55.2,"y":0.39},{"x":56.0,"y":0.42},{"x":56.8,"y":0.44},{"x":57.5,"y":0.37},{"x":58.3,"y":0.4},{"x":59.1,"y":0.42},{"x":59.9,"y":0.35},{"x":60.7,"y":0.38},{"x":61.4,"y":0.43},{"x":62.2,"y":0.4},
{"x":63.0,"y":0.44},{"x":63.8,"y":0.46},{"x":64.6,"y":0.4},{"x":65.3,"y":0.43},
{"x":6.3,"y":0.6},{"x":7.1,"y":0.66},{"x":8.0,"y":0.62},{"x":8.8,"y":0.68},{"x":9.7,"y":0.64},{"x":10.5,"y":0.66},{"x":11.4,"y":0.6},{"x":12.2,"y":0.62},{"x":13.5,"y":0.48},{"x":15.2,"y":0.5},{"x":16.9,"y":0.46},{"x":18.6,"y":0.5},{"x":20.3,"y":0.47},{"x":22.0,"y":0.5},{"x":23.7,"y":0.52},{"x":25.2,"y":0.55},{"x":26.0,"y":0.6},{"x":26.9,"y":0.64},{"x":27.7,"y":0.58},{"x":28.6,"y":0.55},
{"x":29.4,"y":0.5},{"x":30.3,"y":0.52},{"x":31.1,"y":0.56},{"x":32.0,"y":0.52},{"x":32.8,"y":0.58},{"x":33.7,"y":0.6},{"x":34.5,"y":0.64},{"x":35.4,"y":0.6},{"x":36.2,"y":0.66},{"x":37.1,"y":0.7},{"x":37.9,"y":0.66},{"x":38.8,"y":0.62},{"x":39.6,"y":0.6},{"x":40.5,"y":0.66},{"x":41.3,"y":0.62},{"x":42.2,"y":0.68},{"x":43.0,"y":0.64},{"x":43.9,"y":0.6},{"x":44.7,"y":0.62},{"x":45.6,"y":0.66},
{"x":46.4,"y":0.6},{"x":47.3,"y":0.64},{"x":48.1,"y":0.6},{"x":49.0,"y":0.62},{"x":49.8,"y":0.58},{"x":50.7,"y":0.62},{"x":51.5,"y":0.66},{"x":52.4,"y":0.62},{"x":53.2,"y":0.68},{"x":54.1,"y":0.64},{"x":54.9,"y":0.7},{"x":55.8,"y":0.72},{"x":56.6,"y":0.68},{"x":57.5,"y":0.7},{"x":58.3,"y":0.74},{"x":59.2,"y":0.68},{"x":60.0,"y":0.64},{"x":60.9,"y":0.7},{"x":61.7,"y":0.72},{"x":62.6,"y":0.76},
{"x":63.4,"y":0.74},{"x":64.3,"y":0.78},{"x":65.1,"y":0.72},{"x":65.7,"y":0.66},
{"x":0.6,"y":0.78},{"x":1.6,"y":0.55},{"x":2.9,"y":0.75},{"x":4.2,"y":0.5},{"x":5.4,"y":0.6},{"x":6.5,"y":0.9},{"x":7.3,"y":1.2},{"x":8.0,"y":0.85},{"x":8.8,"y":1.05},{"x":9.6,"y":0.8},{"x":10.4,"y":1.1},{"x":11.2,"y":0.9},{"x":12.0,"y":1.0},{"x":12.9,"y":0.75},{"x":14.0,"y":0.55},{"x":15.2,"y":0.62},{"x":16.4,"y":0.5},{"x":17.6,"y":0.6},{"x":18.8,"y":0.55},{"x":20.0,"y":0.6},
{"x":21.2,"y":0.5},{"x":22.4,"y":0.58},{"x":23.6,"y":0.7},{"x":24.8,"y":0.55},{"x":25.8,"y":0.75},{"x":26.8,"y":0.95},{"x":27.8,"y":0.7},{"x":28.8,"y":0.6},{"x":30.0,"y":0.55},{"x":31.2,"y":0.7},{"x":32.4,"y":0.6},{"x":33.6,"y":0.8},{"x":34.8,"y":0.9},{"x":35.8,"y":0.7},{"x":36.8,"y":1.0},{"x":37.8,"y":1.1},{"x":38.8,"y":0.9},{"x":39.8,"y":0.75},{"x":40.8,"y":1.0},{"x":41.8,"y":0.85},
{"x":42.8,"y":1.05},{"x":43.8,"y":0.9},{"x":44.8,"y":0.8},{"x":45.8,"y":0.95},{"x":46.8,"y":0.85},{"x":47.8,"y":1.0},{"x":48.8,"y":0.8},{"x":49.8,"y":0.9},{"x":50.8,"y":0.75},{"x":51.8,"y":1.0},{"x":52.8,"y":0.9},{"x":53.8,"y":1.1},{"x":54.8,"y":0.95},{"x":55.6,"y":1.2},{"x":56.4,"y":1.05},{"x":57.2,"y":0.9},{"x":58.0,"y":1.15},{"x":58.8,"y":0.95},{"x":59.6,"y":0.8},{"x":60.4,"y":1.05},
{"x":61.2,"y":0.9},{"x":62.0,"y":1.2},{"x":62.8,"y":1.0},{"x":63.6,"y":1.15},{"x":64.4,"y":1.3},{"x":65.2,"y":1.0},
{"x":63.7,"y":2.8},{"x":64.0,"y":2.7},{"x":64.7,"y":2.46},{"x":62.5,"y":2.06},{"x":63.7,"y":1.89},{"x":65.2,"y":1.7},{"x":63.4,"y":2.27},{"x":64.4,"y":1.89},{"x":65.4,"y":1.3},{"x":65.6,"y":1.25},{"x":57.4,"y":2.55},{"x":57.8,"y":2.15},{"x":58.3,"y":2.02},{"x":59.5,"y":2.34},{"x":59.6,"y":1.95},{"x":56.6,"y":1.89},{"x":56.1,"y":1.72},{"x":55.6,"y":1.53},{"x":57.0,"y":1.38},{"x":58.3,"y":1.34},
{"x":54.7,"y":1.74},{"x":52.5,"y":1.7},{"x":51.1,"y":1.38},{"x":46.8,"y":1.98},{"x":48.7,"y":1.19},{"x":49.7,"y":1.19},{"x":37.7,"y":2.21},{"x":36.8,"y":1.7},{"x":37.1,"y":1.57},{"x":36.6,"y":1.38},{"x":38.3,"y":1.63},{"x":38.6,"y":1.31},{"x":39.9,"y":1.93},{"x":40.5,"y":1.93},{"x":41.0,"y":1.38},{"x":34.4,"y":1.72},{"x":34.5,"y":1.34},{"x":34.7,"y":1.55},{"x":44.0,"y":1.83},{"x":43.0,"y":1.38},
{"x":32.8,"y":1.29},{"x":26.9,"y":1.57},{"x":27.7,"y":1.66},{"x":25.9,"y":1.1},{"x":26.5,"y":1.28},{"x":18.0,"y":2.15},{"x":6.3,"y":1.85},{"x":6.5,"y":1.65},{"x":8.3,"y":1.55},{"x":9.5,"y":1.3},{"x":9.3,"y":1.19},{"x":11.2,"y":1.38},{"x":12.0,"y":1.25},{"x":7.3,"y":1.38},{"x":10.1,"y":1.35},{"x":53.1,"y":1.0},{"x":54.1,"y":1.12},{"x":60.2,"y":1.44},{"x":60.9,"y":1.63},{"x":61.7,"y":1.5},
{"x":62.7,"y":1.31},{"x":0.6,"y":0.8},{"x":2.9,"y":0.8},{"x":4.2,"y":0.74},{"x":23.0,"y":1.0},{"x":24.0,"y":0.9},{"x":30.0,"y":0.9},{"x":30.9,"y":1.0},{"x":31.7,"y":1.06},{"x":41.5,"y":1.19},{"x":42.5,"y":1.12},{"x":44.7,"y":1.25},{"x":45.7,"y":1.15},{"x":47.4,"y":1.06},{"x":49.9,"y":1.0},{"x":51.6,"y":1.0},{"x":61.2,"y":1.0},{"x":62.5,"y":1.06},{"x":16.0,"y":1.2},{"x":64.0,"y":1.6},
{"x":63.2,"y":1.5},{"x":62.0,"y":1.4}
],
"c19":[
{"x":1.5,"y":0.12},{"x":2.3,"y":0.07},{"x":3.0,"y":0.16},{"x":3.8,"y":0.1},{"x":4.5,"y":0.19},{"x":5.3,"y":0.08},{"x":6.1,"y":0.14},{"x":6.8,"y":0.05},{"x":7.6,"y":0.17},{"x":8.3,"y":0.11},{"x":9.1,"y":0.13},{"x":9.9,"y":0.06},{"x":10.6,"y":0.18},{"x":11.4,"y":0.09},{"x":12.1,"y":0.15},{"x":12.9,"y":0.07},{"x":13.7,"y":0.12},{"x":14.4,"y":0.2},{"x":15.2,"y":0.1},{"x":15.9,"y":0.16},
{"x":16.7,"y":0.12},{"x":17.5,"y":0.07},{"x":18.2,"y":0.16},{"x":19.0,"y":0.1},{"x":19.7,"y":0.19},{"x":20.5,"y":0.08},{"x":21.3,"y":0.14},{"x":22.0,"y":0.05},{"x":22.8,"y":0.17},{"x":23.5,"y":0.11},{"x":24.3,"y":0.13},{"x":25.1,"y":0.06},{"x":25.8,"y":0.18},{"x":26.6,"y":0.09},{"x":27.3,"y":0.15},{"x":28.1,"y":0.07},{"x":28.9,"y":0.12},{"x":29.6,"y":0.2},{"x":30.4,"y":0.1},{"x":31.1,"y":0.16},
{"x":31.9,"y":0.12},{"x":32.7,"y":0.07},{"x":33.4,"y":0.16},{"x":34.2,"y":0.1},{"x":34.9,"y":0.19},{"x":35.7,"y":0.08},{"x":36.5,"y":0.14},{"x":37.2,"y":0.05},{"x":38.0,"y":0.17},{"x":38.7,"y":0.11},{"x":39.5,"y":0.13},{"x":40.3,"y":0.06},{"x":41.0,"y":0.18},{"x":41.8,"y":0.09},{"x":42.5,"y":0.15},{"x":43.3,"y":0.07},{"x":44.1,"y":0.12},{"x":44.8,"y":0.2},{"x":45.6,"y":0.1},{"x":46.3,"y":0.16},
{"x":47.1,"y":0.12},{"x":47.9,"y":0.07},{"x":48.6,"y":0.16},{"x":49.4,"y":0.1},{"x":50.1,"y":0.19},{"x":50.9,"y":0.08},{"x":51.7,"y":0.14},{"x":52.4,"y":0.05},{"x":53.2,"y":0.17},{"x":53.9,"y":0.11},{"x":54.7,"y":0.13},{"x":55.5,"y":0.06},{"x":56.2,"y":0.18},{"x":57.0,"y":0.09},{"x":57.7,"y":0.15},{"x":58.5,"y":0.07},{"x":59.3,"y":0.12},{"x":60.0,"y":0.2},{"x":60.8,"y":0.1},{"x":61.5,"y":0.16},
{"x":62.3,"y":0.12},{"x":63.1,"y":0.07},{"x":63.8,"y":0.16},{"x":64.3,"y":0.1},
{"x":1.9,"y":0.34},{"x":2.7,"y":0.4},{"x":3.4,"y":0.3},{"x":4.2,"y":0.38},{"x":4.9,"y":0.33},{"x":5.7,"y":0.43},{"x":6.5,"y":0.36},{"x":7.2,"y":0.31},{"x":8.0,"y":0.41},{"x":8.7,"y":0.35},{"x":9.5,"y":0.39},{"x":10.3,"y":0.32},{"x":11.0,"y":0.44},{"x":11.8,"y":0.37},{"x":12.5,"y":0.3},{"x":13.3,"y":0.42},{"x":14.1,"y":0.35},{"x":14.8,"y":0.38},{"x":15.6,"y":0.33},{"x":16.3,"y":0.4},
{"x":17.1,"y":0.34},{"x":17.9,"y":0.4},{"x":18.6,"y":0.3},{"x":19.4,"y":0.38},{"x":20.1,"y":0.33},{"x":20.9,"y":0.43},{"x":21.7,"y":0.36},{"x":22.4,"y":0.31},{"x":23.2,"y":0.41},{"x":23.9,"y":0.35},{"x":24.7,"y":0.39},{"x":25.5,"y":0.32},{"x":26.2,"y":0.44},{"x":27.0,"y":0.37},{"x":27.7,"y":0.3},{"x":28.5,"y":0.42},{"x":29.3,"y":0.35},{"x":30.0,"y":0.38},{"x":30.8,"y":0.33},{"x":31.5,"y":0.4},
{"x":32.3,"y":0.34},{"x":33.1,"y":0.4},{"x":33.8,"y":0.3},{"x":34.6,"y":0.38},{"x":35.3,"y":0.33},{"x":36.1,"y":0.43},{"x":36.9,"y":0.36},{"x":37.6,"y":0.31},{"x":38.4,"y":0.41},{"x":39.1,"y":0.35},{"x":39.9,"y":0.39},{"x":40.7,"y":0.32},{"x":41.4,"y":0.4},{"x":42.2,"y":0.37},{"x":42.9,"y":0.3},{"x":43.7,"y":0.38},{"x":44.5,"y":0.35},{"x":45.2,"y":0.36},{"x":46.0,"y":0.33},{"x":46.7,"y":0.38},
{"x":47.5,"y":0.34},{"x":48.3,"y":0.4},{"x":49.0,"y":0.3},{"x":49.8,"y":0.38},{"x":50.5,"y":0.33},{"x":51.3,"y":0.4},{"x":52.1,"y":0.36},{"x":52.8,"y":0.41},{"x":53.6,"y":0.45},{"x":54.3,"y":0.39},{"x":55.1,"y":0.43},{"x":55.9,"y":0.36},{"x":56.6,"y":0.48},{"x":57.4,"y":0.41},{"x":58.1,"y":0.34},{"x":58.9,"y":0.46},{"x":59.7,"y":0.39},{"x":60.4,"y":0.42},{"x":61.2,"y":0.37},{"x":61.9,"y":0.44},
{"x":62.7,"y":0.38},{"x":63.5,"y":0.44},{"x":64.1,"y":0.36},
{"x":2.4,"y":0.52},{"x":3.4,"y":0.56},{"x":4.4,"y":0.5},{"x":5.4,"y":0.55},{"x":6.4,"y":0.52},{"x":7.4,"y":0.58},{"x":8.4,"y":0.5},{"x":9.4,"y":0.54},{"x":10.4,"y":0.56},{"x":11.4,"y":0.5},{"x":12.4,"y":0.54},{"x":13.4,"y":0.58},{"x":14.4,"y":0.55},{"x":15.4,"y":0.6},{"x":16.4,"y":0.56},{"x":17.4,"y":0.58},{"x":18.4,"y":0.52},{"x":19.4,"y":0.56},{"x":20.4,"y":0.5},{"x":21.4,"y":0.54},
{"x":22.4,"y":0.6},{"x":23.4,"y":0.64},{"x":24.4,"y":0.62},{"x":25.4,"y":0.66},{"x":26.4,"y":0.6},{"x":27.4,"y":0.64},{"x":28.4,"y":0.56},{"x":29.4,"y":0.6},{"x":30.4,"y":0.54},{"x":31.4,"y":0.58},{"x":32.4,"y":0.52},{"x":33.4,"y":0.56},{"x":34.4,"y":0.5},{"x":35.4,"y":0.54},{"x":36.4,"y":0.58},{"x":37.4,"y":0.55},{"x":39.0,"y":0.48},{"x":41.0,"y":0.46},{"x":43.0,"y":0.5},{"x":45.0,"y":0.46},
{"x":47.0,"y":0.5},{"x":49.0,"y":0.47},{"x":51.0,"y":0.48},{"x":52.3,"y":0.56},{"x":53.1,"y":0.62},{"x":53.9,"y":0.66},{"x":54.7,"y":0.7},{"x":55.5,"y":0.64},{"x":56.3,"y":0.68},{"x":57.1,"y":0.62},{"x":57.9,"y":0.66},{"x":58.7,"y":0.72},{"x":59.5,"y":0.66},{"x":60.3,"y":0.6},{"x":61.1,"y":0.7},{"x":61.9,"y":0.66},{"x":62.7,"y":0.72},{"x":63.5,"y":0.64},{"x":64.2,"y":0.6},
{"x":2.0,"y":0.55},{"x":3.2,"y":0.75},{"x":4.4,"y":0.6},{"x":5.6,"y":0.8},{"x":6.8,"y":0.65},{"x":8.0,"y":0.85},{"x":9.2,"y":0.6},{"x":10.4,"y":0.8},{"x":11.6,"y":0.7},{"x":12.8,"y":0.55},{"x":13.8,"y":0.9},{"x":14.8,"y":0.75},{"x":15.8,"y":0.95},{"x":16.8,"y":0.7},{"x":17.8,"y":0.9},{"x":18.8,"y":0.65},{"x":19.8,"y":0.8},{"x":20.8,"y":0.6},{"x":21.8,"y":0.75},{"x":22.8,"y":0.95},
{"x":23.8,"y":1.05},{"x":24.8,"y":0.9},{"x":25.8,"y":1.1},{"x":26.8,"y":0.85},{"x":27.8,"y":1.0},{"x":28.8,"y":0.75},{"x":29.8,"y":0.9},{"x":30.8,"y":0.7},{"x":31.8,"y":0.85},{"x":32.8,"y":0.65},{"x":33.8,"y":0.8},{"x":34.8,"y":0.6},{"x":35.8,"y":0.75},{"x":36.8,"y":0.9},{"x":37.8,"y":0.8},{"x":38.8,"y":0.6},{"x":39.8,"y":0.55},{"x":40.8,"y":0.65},{"x":41.8,"y":0.5},{"x":42.8,"y":0.6},
{"x":43.8,"y":0.55},{"x":44.8,"y":0.5},{"x":45.8,"y":0.6},{"x":46.8,"y":0.55},{"x":47.8,"y":0.7},{"x":48.8,"y":0.6},{"x":49.8,"y":0.5},{"x":50.8,"y":0.6},{"x":51.8,"y":0.55},{"x":52.8,"y":0.8},{"x":53.6,"y":0.95},{"x":54.4,"y":1.1},{"x":55.2,"y":0.9},{"x":56.0,"y":1.05},{"x":56.8,"y":0.85},{"x":57.6,"y":1.0},{"x":58.4,"y":1.15},{"x":59.2,"y":0.9},{"x":60.0,"y":0.8},{"x":60.8,"y":1.1},
{"x":61.6,"y":0.95},{"x":62.4,"y":1.2},{"x":63.2,"y":0.9},{"x":64.0,"y":1.05},
{"x":1.7,"y":3.97},{"x":3.1,"y":4.21},{"x":3.1,"y":2.81},{"x":0.46,"y":2.75},{"x":1.7,"y":1.95},{"x":4.3,"y":2.24},{"x":1.2,"y":1.23},{"x":1.5,"y":1.2},{"x":2.2,"y":1.44},{"x":1.9,"y":1.1},{"x":3.3,"y":1.03},{"x":3.8,"y":1.05},{"x":4.5,"y":1.12},{"x":5.8,"y":1.63},{"x":7.2,"y":1.5},{"x":7.6,"y":1.31},{"x":8.6,"y":1.63},{"x":10.2,"y":1.6},{"x":12.4,"y":1.76},{"x":12.0,"y":1.19},
{"x":23.3,"y":2.02},{"x":23.3,"y":1.7},{"x":23.2,"y":1.29},{"x":25.3,"y":1.94},{"x":24.8,"y":1.63},{"x":24.3,"y":1.63},{"x":26.7,"y":1.76},{"x":27.6,"y":1.63},{"x":20.4,"y":1.19},{"x":18.1,"y":1.31},{"x":18.5,"y":1.25},{"x":19.7,"y":1.25},{"x":19.2,"y":1.06},{"x":30.1,"y":1.38},{"x":29.4,"y":1.25},{"x":31.5,"y":1.25},{"x":32.7,"y":1.25},{"x":36.8,"y":1.5},{"x":34.5,"y":1.08},{"x":35.9,"y":1.0},
{"x":38.8,"y":1.53},{"x":42.6,"y":1.53},{"x":42.9,"y":1.0},{"x":48.3,"y":1.38},{"x":48.7,"y":1.44},{"x":49.4,"y":1.0},{"x":53.2,"y":1.66},{"x":54.0,"y":1.5},{"x":54.2,"y":1.38},{"x":55.5,"y":1.63},{"x":56.3,"y":1.44},{"x":56.8,"y":1.48},{"x":57.9,"y":1.7},{"x":58.4,"y":2.08},{"x":58.5,"y":2.43},{"x":58.7,"y":2.81},{"x":59.5,"y":1.89},{"x":58.8,"y":1.25},{"x":60.6,"y":3.2},{"x":60.5,"y":1.7},
{"x":60.6,"y":1.5},{"x":61.3,"y":2.22},{"x":61.6,"y":2.25},{"x":61.0,"y":1.63},{"x":61.4,"y":1.38},{"x":62.6,"y":2.15},{"x":62.9,"y":1.79},{"x":59.1,"y":1.0},{"x":61.9,"y":1.0},{"x":62.8,"y":1.31},{"x":1.6,"y":0.2},{"x":2.1,"y":0.6}
],
"c27":[
{"x":0.1,"y":0.12},{"x":0.65,"y":0.07},{"x":1.2,"y":0.16},{"x":1.75,"y":0.1},{"x":2.3,"y":0.19},{"x":2.85,"y":0.08},{"x":3.4,"y":0.14},{"x":3.95,"y":0.05},{"x":4.5,"y":0.17},{"x":5.05,"y":0.11},{"x":6.3,"y":0.13},{"x":6.85,"y":0.06},{"x":7.4,"y":0.18},{"x":7.95,"y":0.09},{"x":8.5,"y":0.15},{"x":9.05,"y":0.07},{"x":9.6,"y":0.12},{"x":10.15,"y":0.2},{"x":10.7,"y":0.1},{"x":11.25,"y":0.16},
{"x":11.8,"y":0.12},{"x":12.35,"y":0.07},{"x":12.9,"y":0.16},{"x":13.45,"y":0.1},{"x":14.0,"y":0.19},{"x":14.55,"y":0.08},{"x":15.1,"y":0.14},{"x":15.65,"y":0.05},{"x":16.2,"y":0.17},{"x":16.75,"y":0.11},{"x":17.3,"y":0.13},{"x":17.85,"y":0.06},{"x":18.4,"y":0.18},{"x":18.95,"y":0.09},{"x":19.5,"y":0.15},{"x":20.05,"y":0.07},{"x":20.6,"y":0.12},{"x":21.15,"y":0.2},{"x":21.7,"y":0.1},{"x":22.25,"y":0.16},
{"x":22.8,"y":0.12},{"x":23.35,"y":0.07},{"x":23.9,"y":0.16},{"x":24.45,"y":0.1},{"x":25.0,"y":0.19},{"x":25.55,"y":0.08},{"x":26.1,"y":0.14},{"x":26.65,"y":0.05},{"x":27.2,"y":0.17},{"x":27.75,"y":0.11},{"x":28.3,"y":0.13},{"x":28.85,"y":0.06},{"x":29.4,"y":0.18},{"x":29.95,"y":0.09},{"x":30.5,"y":0.15},{"x":31.05,"y":0.07},{"x":31.6,"y":0.12},{"x":32.15,"y":0.2},{"x":32.7,"y":0.1},{"x":33.25,"y":0.16},
{"x":33.8,"y":0.12},{"x":34.35,"y":0.07},{"x":34.9,"y":0.16},{"x":35.45,"y":0.1},{"x":36.0,"y":0.19},{"x":36.55,"y":0.08},{"x":37.1,"y":0.14},{"x":37.65,"y":0.05},{"x":38.2,"y":0.17},{"x":38.75,"y":0.11},{"x":39.3,"y":0.13},{"x":39.85,"y":0.06},{"x":40.4,"y":0.18},{"x":40.95,"y":0.09},{"x":41.5,"y":0.15},{"x":42.05,"y":0.07},{"x":42.6,"y":0.12},{"x":43.15,"y":0.2},{"x":43.7,"y":0.1},{"x":44.25,"y":0.16},
{"x":44.8,"y":0.12},{"x":45.3,"y":0.07},
{"x":0.4,"y":0.31},{"x":0.9,"y":0.37},{"x":1.5,"y":0.27},{"x":2.0,"y":0.35},{"x":2.6,"y":0.3},{"x":3.1,"y":0.4},{"x":3.7,"y":0.33},{"x":4.2,"y":0.28},{"x":4.8,"y":0.38},{"x":6.6,"y":0.32},{"x":7.1,"y":0.36},{"x":7.7,"y":0.29},{"x":8.2,"y":0.41},{"x":8.8,"y":0.34},{"x":9.3,"y":0.27},{"x":9.9,"y":0.39},{"x":10.4,"y":0.32},{"x":11.0,"y":0.35},{"x":11.5,"y":0.3},{"x":12.1,"y":0.37},
{"x":12.6,"y":0.31},{"x":13.2,"y":0.37},{"x":13.7,"y":0.27},{"x":14.3,"y":0.35},{"x":14.8,"y":0.3},{"x":15.4,"y":0.4},{"x":15.9,"y":0.33},{"x":16.5,"y":0.28},{"x":17.0,"y":0.38},{"x":17.6,"y":0.32},{"x":18.1,"y":0.36},{"x":18.7,"y":0.29},{"x":19.2,"y":0.41},{"x":19.8,"y":0.34},{"x":20.3,"y":0.27},{"x":20.9,"y":0.39},{"x":21.4,"y":0.32},{"x":22.0,"y":0.35},{"x":22.5,"y":0.3},{"x":23.1,"y":0.37},
{"x":23.6,"y":0.31},{"x":24.2,"y":0.37},{"x":24.7,"y":0.27},{"x":25.3,"y":0.35},{"x":25.8,"y":0.3},{"x":26.4,"y":0.4},{"x":26.9,"y":0.33},{"x":27.5,"y":0.28},{"x":28.0,"y":0.38},{"x":28.6,"y":0.32},{"x":29.1,"y":0.36},{"x":29.7,"y":0.29},{"x":30.2,"y":0.41},{"x":30.8,"y":0.34},{"x":31.3,"y":0.27},{"x":31.9,"y":0.39},{"x":32.4,"y":0.32},{"x":33.0,"y":0.35},{"x":33.5,"y":0.3},{"x":34.1,"y":0.37},
{"x":34.6,"y":0.31},{"x":35.2,"y":0.37},{"x":35.7,"y":0.27},{"x":36.3,"y":0.35},{"x":36.8,"y":0.3},{"x":37.4,"y":0.4},{"x":37.9,"y":0.33},{"x":38.5,"y":0.28},{"x":39.0,"y":0.38},{"x":39.6,"y":0.32},{"x":40.1,"y":0.36},{"x":40.7,"y":0.29},{"x":41.2,"y":0.41},{"x":41.8,"y":0.34},{"x":42.3,"y":0.27},{"x":42.9,"y":0.39},{"x":43.4,"y":0.32},{"x":44.0,"y":0.35},{"x":44.5,"y":0.3},{"x":45.1,"y":0.37},
{"x":0.3,"y":0.5},{"x":1.3,"y":0.46},{"x":2.3,"y":0.52},{"x":3.3,"y":0.48},{"x":4.3,"y":0.5},{"x":6.8,"y":0.46},{"x":7.8,"y":0.5},{"x":8.8,"y":0.47},{"x":9.8,"y":0.52},{"x":10.8,"y":0.48},{"x":11.8,"y":0.5},{"x":12.8,"y":0.46},{"x":13.8,"y":0.52},{"x":14.8,"y":0.48},{"x":15.8,"y":0.5},{"x":16.8,"y":0.54},{"x":17.8,"y":0.5},{"x":18.8,"y":0.52},{"x":19.8,"y":0.46},{"x":20.8,"y":0.5},
{"x":21.8,"y":0.54},{"x":22.8,"y":0.56},{"x":23.8,"y":0.52},{"x":24.8,"y":0.48},{"x":25.8,"y":0.5},{"x":26.8,"y":0.46},{"x":27.8,"y":0.48},{"x":28.8,"y":0.5},{"x":29.8,"y":0.46},{"x":30.8,"y":0.5},{"x":31.8,"y":0.54},{"x":32.8,"y":0.5},{"x":33.8,"y":0.47},{"x":34.8,"y":0.5},{"x":35.8,"y":0.54},{"x":36.8,"y":0.56},{"x":37.8,"y":0.52},{"x":38.8,"y":0.48},{"x":39.8,"y":0.5},{"x":40.8,"y":0.52},
{"x":41.8,"y":0.5},{"x":42.8,"y":0.56},{"x":43.8,"y":0.54},{"x":44.8,"y":0.5},
{"x":0.3,"y":0.55},{"x":1.3,"y":0.6},{"x":2.1,"y":0.7},{"x":3.0,"y":0.55},{"x":3.8,"y":0.3},{"x":4.6,"y":0.55},{"x":6.6,"y":0.4},{"x":7.4,"y":0.6},{"x":8.2,"y":0.5},{"x":9.0,"y":0.7},{"x":9.8,"y":0.55},{"x":10.6,"y":0.65},{"x":11.4,"y":0.5},{"x":12.2,"y":0.6},{"x":13.0,"y":0.7},{"x":13.8,"y":0.55},{"x":14.6,"y":0.6},{"x":15.4,"y":0.5},{"x":16.2,"y":0.65},{"x":17.0,"y":0.8},
{"x":17.6,"y":0.6},{"x":18.4,"y":0.7},{"x":19.2,"y":0.55},{"x":20.0,"y":0.45},{"x":20.8,"y":0.6},{"x":21.6,"y":0.75},{"x":22.4,"y":0.85},{"x":23.2,"y":0.65},{"x":24.0,"y":0.7},{"x":24.8,"y":0.55},{"x":25.6,"y":0.6},{"x":26.4,"y":0.5},{"x":27.2,"y":0.55},{"x":28.0,"y":0.45},{"x":28.8,"y":0.6},{"x":29.6,"y":0.5},{"x":30.4,"y":0.65},{"x":31.2,"y":0.75},{"x":32.0,"y":0.85},{"x":32.8,"y":0.6},
{"x":33.6,"y":0.55},{"x":34.4,"y":0.5},{"x":35.2,"y":0.65},{"x":36.0,"y":0.75},{"x":36.8,"y":0.85},{"x":37.6,"y":0.7},{"x":38.4,"y":0.6},{"x":39.2,"y":0.55},{"x":40.0,"y":0.6},{"x":40.8,"y":0.7},{"x":41.6,"y":0.65},{"x":42.4,"y":0.9},{"x":43.2,"y":0.75},{"x":44.0,"y":0.85},{"x":44.8,"y":0.7},
{"x":4.2,"y":2.53},{"x":3.0,"y":1.7},{"x":2.5,"y":1.47},{"x":2.1,"y":1.32},{"x":2.55,"y":1.06},{"x":2.9,"y":1.0},{"x":4.5,"y":1.06},{"x":4.65,"y":1.12},{"x":5.07,"y":0.6},{"x":4.0,"y":0.9},{"x":0.1,"y":0.78},{"x":0.4,"y":0.74},{"x":1.1,"y":0.78},{"x":1.5,"y":0.74},{"x":1.8,"y":0.64},{"x":6.5,"y":0.87},{"x":6.6,"y":0.7},{"x":7.7,"y":1.06},{"x":8.0,"y":1.29},{"x":8.7,"y":0.9},
{"x":9.4,"y":0.97},{"x":10.5,"y":1.09},{"x":11.0,"y":0.8},{"x":11.5,"y":1.16},{"x":11.1,"y":0.93},{"x":17.1,"y":1.35},{"x":16.9,"y":1.25},{"x":16.7,"y":1.12},{"x":17.3,"y":1.02},{"x":17.9,"y":1.72},{"x":17.7,"y":1.31},{"x":19.1,"y":1.57},{"x":19.0,"y":1.25},{"x":19.2,"y":1.12},{"x":20.0,"y":0.77},{"x":22.7,"y":1.67},{"x":23.3,"y":1.63},{"x":23.8,"y":1.57},{"x":24.5,"y":1.55},{"x":22.7,"y":1.1},
{"x":22.1,"y":0.87},{"x":21.4,"y":0.93},{"x":23.7,"y":0.93},{"x":24.6,"y":1.0},{"x":29.9,"y":1.76},{"x":29.7,"y":0.87},{"x":29.3,"y":0.74},{"x":31.8,"y":1.0},{"x":32.8,"y":1.03},{"x":31.2,"y":0.87},{"x":33.5,"y":0.64},{"x":36.7,"y":1.32},{"x":37.7,"y":1.42},{"x":38.2,"y":1.25},{"x":37.2,"y":1.0},{"x":35.6,"y":0.87},{"x":39.5,"y":1.72},{"x":39.8,"y":1.64},{"x":39.4,"y":0.97},{"x":42.6,"y":2.0},
{"x":42.6,"y":0.93},{"x":43.9,"y":2.06},{"x":44.4,"y":1.74},{"x":44.7,"y":1.64},{"x":45.3,"y":1.72},{"x":43.6,"y":1.25},{"x":43.7,"y":1.12},{"x":44.0,"y":1.19},{"x":44.5,"y":1.0},{"x":45.0,"y":0.93},{"x":45.3,"y":0.5},{"x":5.3,"y":0.2},{"x":5.8,"y":0.15},{"x":6.1,"y":0.3},{"x":13.5,"y":1.05},{"x":13.0,"y":0.85},{"x":14.8,"y":0.9},{"x":15.5,"y":0.95},{"x":16.3,"y":0.85},{"x":18.5,"y":0.9},
{"x":20.6,"y":0.95},{"x":21.0,"y":0.85},{"x":25.3,"y":0.8},{"x":26.3,"y":0.85},{"x":27.5,"y":0.9},{"x":28.2,"y":0.7},{"x":30.5,"y":0.8},{"x":34.0,"y":0.75},{"x":35.0,"y":0.6},{"x":38.8,"y":0.85},{"x":40.6,"y":0.75},{"x":41.3,"y":0.8},{"x":42.2,"y":0.85}
],
"c28":[
{"x":0.1,"y":0.12},{"x":0.65,"y":0.07},{"x":1.2,"y":0.16},{"x":1.8,"y":0.1},{"x":2.35,"y":0.19},{"x":2.9,"y":0.08},{"x":3.5,"y":0.14},{"x":4.05,"y":0.05},{"x":4.6,"y":0.17},{"x":5.2,"y":0.11},{"x":5.75,"y":0.13},{"x":6.3,"y":0.06},{"x":6.9,"y":0.18},{"x":7.45,"y":0.09},{"x":8.0,"y":0.15},{"x":8.6,"y":0.07},{"x":9.15,"y":0.12},{"x":9.7,"y":0.2},{"x":10.3,"y":0.1},{"x":10.85,"y":0.16},
{"x":11.4,"y":0.12},{"x":12.0,"y":0.07},{"x":12.55,"y":0.16},{"x":13.1,"y":0.1},{"x":13.7,"y":0.19},{"x":14.25,"y":0.08},{"x":14.8,"y":0.14},{"x":15.4,"y":0.05},{"x":15.95,"y":0.17},{"x":16.5,"y":0.11},{"x":17.1,"y":0.13},{"x":17.65,"y":0.06},{"x":18.2,"y":0.18},{"x":18.8,"y":0.09},{"x":19.35,"y":0.15},{"x":19.9,"y":0.07},{"x":20.5,"y":0.12},{"x":21.05,"y":0.2},{"x":21.6,"y":0.1},{"x":22.2,"y":0.16},
{"x":22.75,"y":0.12},{"x":23.3,"y":0.07},{"x":23.9,"y":0.16},{"x":24.45,"y":0.1},{"x":25.0,"y":0.19},{"x":25.6,"y":0.08},{"x":26.15,"y":0.14},{"x":26.7,"y":0.05},{"x":27.3,"y":0.17},{"x":27.85,"y":0.11},{"x":28.4,"y":0.13},{"x":29.0,"y":0.06},{"x":29.55,"y":0.18},{"x":30.1,"y":0.09},{"x":30.7,"y":0.15},{"x":31.25,"y":0.07},{"x":31.8,"y":0.12},{"x":32.4,"y":0.2},{"x":32.95,"y":0.1},{"x":33.5,"y":0.16},
{"x":34.1,"y":0.12},{"x":34.65,"y":0.07},{"x":35.2,"y":0.16},{"x":35.8,"y":0.1},{"x":36.35,"y":0.19},{"x":36.9,"y":0.08},{"x":37.5,"y":0.14},{"x":38.05,"y":0.05},{"x":38.6,"y":0.17},{"x":39.2,"y":0.11},{"x":39.75,"y":0.13},{"x":40.3,"y":0.06},{"x":40.9,"y":0.18},{"x":41.45,"y":0.09},{"x":42.0,"y":0.15},{"x":42.6,"y":0.07},{"x":43.15,"y":0.12},{"x":43.7,"y":0.2},{"x":44.3,"y":0.1},{"x":44.85,"y":0.16},
{"x":45.4,"y":0.12},{"x":46.0,"y":0.07},{"x":46.3,"y":0.16},
{"x":0.4,"y":0.34},{"x":0.95,"y":0.4},{"x":1.5,"y":0.3},{"x":2.1,"y":0.38},{"x":2.65,"y":0.33},{"x":3.2,"y":0.43},{"x":3.8,"y":0.36},{"x":4.35,"y":0.31},{"x":4.9,"y":0.41},{"x":5.5,"y":0.35},{"x":6.05,"y":0.39},{"x":6.6,"y":0.32},{"x":7.2,"y":0.44},{"x":7.75,"y":0.37},{"x":8.3,"y":0.3},{"x":8.9,"y":0.42},{"x":9.45,"y":0.35},{"x":10.0,"y":0.38},{"x":10.6,"y":0.33},{"x":11.15,"y":0.4},
{"x":11.7,"y":0.34},{"x":12.3,"y":0.4},{"x":12.85,"y":0.3},{"x":13.4,"y":0.38},{"x":14.0,"y":0.33},{"x":14.55,"y":0.43},{"x":15.1,"y":0.36},{"x":15.7,"y":0.31},{"x":16.25,"y":0.41},{"x":16.8,"y":0.35},{"x":17.4,"y":0.39},{"x":17.95,"y":0.32},{"x":18.5,"y":0.3},{"x":19.1,"y":0.24},{"x":19.65,"y":0.2},{"x":20.2,"y":0.22},{"x":20.8,"y":0.2},{"x":21.35,"y":0.24},{"x":21.9,"y":0.26},{"x":22.5,"y":0.3},
{"x":23.05,"y":0.34},{"x":23.6,"y":0.4},{"x":24.2,"y":0.3},{"x":24.75,"y":0.38},{"x":25.3,"y":0.33},{"x":25.9,"y":0.43},{"x":26.45,"y":0.36},{"x":27.0,"y":0.41},{"x":27.6,"y":0.45},{"x":28.15,"y":0.4},{"x":28.7,"y":0.39},{"x":29.3,"y":0.32},{"x":29.85,"y":0.44},{"x":30.4,"y":0.37},{"x":31.0,"y":0.3},{"x":31.55,"y":0.42},{"x":32.1,"y":0.35},{"x":32.7,"y":0.38},{"x":33.25,"y":0.33},{"x":33.8,"y":0.4},
{"x":34.4,"y":0.44},{"x":34.95,"y":0.46},{"x":35.5,"y":0.4},{"x":36.1,"y":0.38},{"x":36.65,"y":0.33},{"x":37.2,"y":0.43},{"x":37.8,"y":0.36},{"x":38.35,"y":0.31},{"x":38.9,"y":0.41},{"x":39.5,"y":0.35},{"x":40.05,"y":0.39},{"x":40.6,"y":0.32},{"x":41.2,"y":0.44},{"x":41.75,"y":0.37},{"x":42.3,"y":0.3},{"x":42.9,"y":0.42},{"x":43.45,"y":0.35},{"x":44.0,"y":0.38},{"x":44.6,"y":0.33},{"x":45.15,"y":0.4},
{"x":45.7,"y":0.34},{"x":46.2,"y":0.4},
{"x":0.3,"y":0.55},{"x":1.2,"y":0.5},{"x":2.1,"y":0.46},{"x":3.0,"y":0.5},{"x":3.9,"y":0.56},{"x":4.8,"y":0.52},{"x":5.7,"y":0.58},{"x":6.6,"y":0.52},{"x":7.5,"y":0.55},{"x":8.4,"y":0.6},{"x":9.3,"y":0.52},{"x":10.2,"y":0.56},{"x":11.1,"y":0.52},{"x":12.0,"y":0.5},{"x":12.9,"y":0.56},{"x":13.8,"y":0.54},{"x":14.7,"y":0.6},{"x":15.6,"y":0.56},{"x":16.5,"y":0.6},{"x":17.4,"y":0.54},
{"x":18.3,"y":0.48},{"x":23.0,"y":0.48},{"x":23.9,"y":0.5},{"x":24.8,"y":0.52},{"x":25.7,"y":0.56},{"x":26.6,"y":0.62},{"x":27.5,"y":0.66},{"x":28.4,"y":0.6},{"x":29.3,"y":0.52},{"x":30.2,"y":0.48},{"x":31.1,"y":0.52},{"x":32.0,"y":0.5},{"x":32.9,"y":0.54},{"x":33.8,"y":0.6},{"x":34.7,"y":0.66},{"x":35.6,"y":0.6},{"x":36.5,"y":0.54},{"x":37.4,"y":0.5},{"x":38.3,"y":0.48},{"x":39.2,"y":0.52},
{"x":40.1,"y":0.5},{"x":41.0,"y":0.54},{"x":41.9,"y":0.52},{"x":42.8,"y":0.56},{"x":43.7,"y":0.54},{"x":44.6,"y":0.5},{"x":45.5,"y":0.56},{"x":46.2,"y":0.52},
{"x":0.5,"y":0.6},{"x":1.3,"y":0.55},{"x":2.0,"y":0.45},{"x":2.8,"y":0.5},{"x":3.6,"y":0.7},{"x":4.4,"y":0.6},{"x":5.2,"y":0.75},{"x":6.0,"y":0.55},{"x":6.8,"y":0.65},{"x":7.6,"y":0.6},{"x":8.4,"y":0.75},{"x":9.2,"y":0.55},{"x":10.0,"y":0.7},{"x":10.8,"y":0.6},{"x":11.6,"y":0.5},{"x":12.4,"y":0.65},{"x":13.2,"y":0.75},{"x":14.0,"y":0.6},{"x":14.8,"y":0.85},{"x":15.6,"y":0.7},
{"x":16.4,"y":0.8},{"x":17.2,"y":0.65},{"x":18.0,"y":0.5},{"x":18.8,"y":0.4},{"x":22.4,"y":0.45},{"x":23.2,"y":0.6},{"x":24.0,"y":0.5},{"x":24.8,"y":0.55},{"x":25.6,"y":0.65},{"x":26.4,"y":0.75},{"x":27.0,"y":0.9},{"x":27.6,"y":0.8},{"x":28.2,"y":0.95},{"x":28.8,"y":0.7},{"x":29.6,"y":0.55},{"x":30.4,"y":0.5},{"x":31.2,"y":0.6},{"x":32.0,"y":0.55},{"x":32.8,"y":0.65},{"x":33.6,"y":0.75},
{"x":34.2,"y":0.85},{"x":34.8,"y":0.95},{"x":35.4,"y":0.8},{"x":36.2,"y":0.6},{"x":37.0,"y":0.55},{"x":37.8,"y":0.5},{"x":38.6,"y":0.45},{"x":39.4,"y":0.6},{"x":40.2,"y":0.55},{"x":41.0,"y":0.65},{"x":41.8,"y":0.6},{"x":42.6,"y":0.7},{"x":43.4,"y":0.65},{"x":44.2,"y":0.55},{"x":45.0,"y":0.7},{"x":45.8,"y":0.6},
{"x":40.8,"y":2.4},{"x":40.5,"y":2.02},{"x":40.5,"y":1.72},{"x":40.6,"y":1.63},{"x":44.5,"y":2.46},{"x":45.3,"y":2.34},{"x":46.0,"y":2.43},{"x":44.7,"y":2.21},{"x":43.7,"y":2.17},{"x":43.8,"y":1.66},{"x":45.0,"y":1.74},{"x":45.5,"y":1.5},{"x":45.4,"y":1.25},{"x":46.0,"y":1.66},{"x":42.7,"y":1.66},{"x":42.6,"y":1.31},{"x":41.1,"y":1.02},{"x":38.3,"y":1.31},{"x":39.1,"y":0.87},{"x":38.8,"y":1.12},
{"x":37.8,"y":1.53},{"x":35.0,"y":1.63},{"x":35.2,"y":1.53},{"x":34.9,"y":1.25},{"x":34.3,"y":1.0},{"x":35.7,"y":1.02},{"x":36.0,"y":1.19},{"x":31.6,"y":2.1},{"x":31.1,"y":1.25},{"x":31.1,"y":0.8},{"x":32.1,"y":1.0},{"x":26.1,"y":2.02},{"x":27.9,"y":1.89},{"x":28.1,"y":1.83},{"x":26.6,"y":1.29},{"x":27.2,"y":1.38},{"x":28.3,"y":1.09},{"x":27.4,"y":1.0},{"x":26.4,"y":0.87},{"x":13.2,"y":1.85},
{"x":12.2,"y":1.4},{"x":12.5,"y":1.15},{"x":13.2,"y":1.12},{"x":10.05,"y":1.83},{"x":10.5,"y":1.53},{"x":9.5,"y":1.0},{"x":9.8,"y":0.87},{"x":8.8,"y":1.02},{"x":8.3,"y":1.47},{"x":8.7,"y":1.12},{"x":5.2,"y":1.53},{"x":4.4,"y":1.19},{"x":4.2,"y":0.96},{"x":3.4,"y":1.0},{"x":0.1,"y":1.02},{"x":0.3,"y":0.87},{"x":0.85,"y":0.8},{"x":1.5,"y":0.77},{"x":1.75,"y":0.64},{"x":14.5,"y":1.25},
{"x":15.2,"y":1.28},{"x":15.9,"y":1.32},{"x":16.1,"y":1.19},{"x":17.3,"y":1.32},{"x":16.9,"y":1.15},{"x":17.6,"y":1.0},{"x":18.1,"y":0.74},{"x":15.6,"y":1.0},{"x":6.3,"y":1.0},{"x":7.1,"y":0.87},{"x":11.2,"y":1.0},{"x":14.0,"y":1.0},{"x":19.3,"y":0.55},{"x":43.7,"y":1.12},{"x":43.5,"y":0.87},{"x":45.7,"y":1.0},{"x":39.8,"y":1.6},{"x":39.7,"y":1.5},{"x":29.5,"y":0.9},
{"x":33.0,"y":0.85},{"x":36.5,"y":0.9},{"x":37.0,"y":0.75},{"x":30.8,"y":0.8},{"x":25.0,"y":0.85},{"x":24.3,"y":0.7},{"x":22.8,"y":0.7},{"x":23.5,"y":0.65}
]
},
"columns":2,
"spacing":{"row":69,"column":42},
"bounds":"flush",
"concat":[
{"width":598,"height":156,
 "title":{"text":"%CY","subtitle":"\u200b\u00a0\u00a0\u00a0\u00a0\u00a0\u00a0\u00a0\u00a0\u00a0\u00a0\u00a0\u00a0\u00a0\u00a0SOLIDS","dx":236},
 "layer":[
  {"data":{"name":"c2"},"mark":{"type":"circle","size":60,"color":"#1a1a1a","opacity":1},
   "encoding":{"x":{"field":"x","type":"quantitative","title":"Chromosome 2 position(Mb)","scale":{"domain":[-5.38,140.97],"nice":false,"zero":false},"axis":{"values":[0,20,40,60,80,100,120,140]}},
   "y":{"field":"y","type":"quantitative","title":"−log₁₀(p)","scale":{"domain":[0,6],"nice":false},"axis":{"values":[0,1,2,3,4,5,6]}}}},
  {"data":{"values":[{"x":128.81,"y":4.49,"lab":"Hapmap60596-rs29017365\n(128,812,635bp)"}]},
   "layer":[
    {"mark":{"type":"rule","color":"#ff2a2a","strokeWidth":1},"encoding":{"y":{"datum":4.33}}},
    {"mark":{"type":"circle","size":56,"color":"#00cd00","opacity":1},"encoding":{"x":{"field":"x","type":"quantitative","title":"Chromosome 2 position(Mb)"},"y":{"field":"y","type":"quantitative","title":"−log₁₀(p)"}}},
    {"mark":{"type":"text","font":"Liberation Serif","fontWeight":"bold","fontSize":12.5,"lineBreak":"\n","lineHeight":14,"align":"center","baseline":"middle","dx":-57,"color":"#000"},"encoding":{"x":{"field":"x","type":"quantitative","title":"Chromosome 2 position(Mb)"},"y":{"datum":5.2},"text":{"field":"lab"}}}
   ]}
 ]},
{"width":598,"height":156,
 "title":{"text":"REC","subtitle":"\u200b\u00a0\u00a0\u00a0\u00a0\u00a0\u00a0\u00a0\u00a0\u00a0\u00a0\u00a0\u00a0ENERGY","dx":236},
 "layer":[
  {"data":{"name":"c9"},"mark":{"type":"circle","size":60,"color":"#1a1a1a","opacity":1},
   "encoding":{"x":{"field":"x","type":"quantitative","title":"Chromosome 9 position(Mb)","scale":{"domain":[-4.73,108.5],"nice":false,"zero":false},"axis":{"values":[0,20,40,60,80,100]}},
   "y":{"field":"y","type":"quantitative","title":"−log₁₀(p)","scale":{"domain":[0,6],"nice":false},"axis":{"values":[0,1,2,3,4,5,6]}}}},
  {"data":{"values":[{"x":91.06,"y":4.36,"lab":"BTB-00403185\n(91,058,994bp)"}]},
   "layer":[
    {"mark":{"type":"rule","color":"#ff2a2a","strokeWidth":1},"encoding":{"y":{"datum":4.33}}},
    {"mark":{"type":"circle","size":56,"color":"#00cd00","opacity":1},"encoding":{"x":{"field":"x","type":"quantitative","title":"Chromosome 9 position(Mb)"},"y":{"field":"y","type":"quantitative","title":"−log₁₀(p)"}}},
    {"mark":{"type":"text","font":"Liberation Serif","fontWeight":"bold","fontSize":12.5,"lineBreak":"\n","lineHeight":14,"align":"center","baseline":"middle","dx":-59,"color":"#000"},"encoding":{"x":{"field":"x","type":"quantitative","title":"Chromosome 9 position(Mb)"},"y":{"datum":5.2},"text":{"field":"lab"}}}
   ]}
 ]},
{"width":598,"height":156,
 "title":{"text":"%CY","subtitle":"\u200b\u00a0\u00a0\u00a0\u00a0\u00a0\u00a0\u00a0\u00a0\u00a0\u00a0\u00a0\u00a0\u00a0\u00a0WATER","dx":236},
 "layer":[
  {"data":{"name":"c12"},"mark":{"type":"circle","size":60,"color":"#1a1a1a","opacity":1},
   "encoding":{"x":{"field":"x","type":"quantitative","title":"Chromosome 12 position(Mb)","scale":{"domain":[-3.08,93.84],"nice":false,"zero":false},"axis":{"values":[0,20,40,60,80]}},
   "y":{"field":"y","type":"quantitative","title":"−log₁₀(p)","scale":{"domain":[0,6],"nice":false},"axis":{"values":[0,1,2,3,4,5,6]}}}},
  {"data":{"values":[{"x":85.27,"y":4.66,"lab":"BTB-00507211\n(85,272,488bp)"}]},
   "layer":[
    {"mark":{"type":"rule","color":"#ff2a2a","strokeWidth":1},"encoding":{"y":{"datum":4.33}}},
    {"mark":{"type":"circle","size":56,"color":"#00cd00","opacity":1},"encoding":{"x":{"field":"x","type":"quantitative","title":"Chromosome 12 position(Mb)"},"y":{"field":"y","type":"quantitative","title":"−log₁₀(p)"}}},
    {"mark":{"type":"text","font":"Liberation Serif","fontWeight":"bold","fontSize":12.5,"lineBreak":"\n","lineHeight":14,"align":"center","baseline":"middle","dx":-65,"color":"#000"},"encoding":{"x":{"field":"x","type":"quantitative","title":"Chromosome 12 position(Mb)"},"y":{"datum":5.2},"text":{"field":"lab"}}}
   ]}
 ]},
{"width":598,"height":156,
 "title":{"text":"%CY","subtitle":"\u200b\u00a0\u00a0\u00a0\u00a0\u00a0\u00a0\u00a0\u00a0\u00a0\u00a0\u00a0\u00a0\u00a0\u00a0SOLIDS","dx":240},
 "layer":[
  {"data":{"name":"c14"},"mark":{"type":"circle","size":60,"color":"#1a1a1a","opacity":1},
   "encoding":{"x":{"field":"x","type":"quantitative","title":"Chromosome 14 position(Mb)","scale":{"domain":[-3.75,87.9],"nice":false,"zero":false},"axis":{"values":[0,20,40,60,80]}},
   "y":{"field":"y","type":"quantitative","title":"−log₁₀(p)","scale":{"domain":[0,6],"nice":false},"axis":{"values":[0,1,2,3,4,5,6]}}}},
  {"data":{"values":[{"x":26.0,"y":4.38,"lab":"Hapmap25446-BTC-054694\n(26,003,598bp)"}]},
   "layer":[
    {"mark":{"type":"rule","color":"#ff2a2a","strokeWidth":1},"encoding":{"y":{"datum":4.33}}},
    {"mark":{"type":"circle","size":56,"color":"#00cd00","opacity":1},"encoding":{"x":{"field":"x","type":"quantitative","title":"Chromosome 14 position(Mb)"},"y":{"field":"y","type":"quantitative","title":"−log₁₀(p)"}}},
    {"mark":{"type":"text","font":"Liberation Serif","fontWeight":"bold","fontSize":12.5,"lineBreak":"\n","lineHeight":14,"align":"center","baseline":"middle","dx":-52,"color":"#000"},"encoding":{"x":{"field":"x","type":"quantitative","title":"Chromosome 14 position(Mb)"},"y":{"datum":5.2},"text":{"field":"lab"}}}
   ]}
 ]},
{"width":598,"height":156,
 "title":{"text":"%CY","subtitle":"\u200b\u00a0\u00a0\u00a0\u00a0\u00a0\u00a0\u00a0\u00a0\u00a0\u00a0\u00a0\u00a0\u00a0\u00a0WATER","dx":236},
 "layer":[
  {"data":{"name":"c18"},"mark":{"type":"circle","size":60,"color":"#1a1a1a","opacity":1},
   "encoding":{"x":{"field":"x","type":"quantitative","title":"Chromosome 18 position(Mb)","scale":{"domain":[-2.22,67.77],"nice":false,"zero":false},"axis":{"values":[0,10,20,30,40,50,60]}},
   "y":{"field":"y","type":"quantitative","title":"−log₁₀(p)","scale":{"domain":[0,6],"nice":false},"axis":{"values":[0,1,2,3,4,5,6]}}}},
  {"data":{"values":[{"x":65.27,"y":4.41,"lab":"Hapmap51570-BTA-17962\n(65,269,893bp)"}]},
   "layer":[
    {"mark":{"type":"rule","color":"#ff2a2a","strokeWidth":1},"encoding":{"y":{"datum":4.33}}},
    {"mark":{"type":"circle","size":56,"color":"#00cd00","opacity":1},"encoding":{"x":{"field":"x","type":"quantitative","title":"Chromosome 18 position(Mb)"},"y":{"field":"y","type":"quantitative","title":"−log₁₀(p)"}}},
    {"mark":{"type":"text","font":"Liberation Serif","fontWeight":"bold","fontSize":12.5,"lineBreak":"\n","lineHeight":14,"align":"center","baseline":"middle","dx":-73,"color":"#000"},"encoding":{"x":{"field":"x","type":"quantitative","title":"Chromosome 18 position(Mb)"},"y":{"datum":5.2},"text":{"field":"lab"}}}
   ]}
 ]},
{"width":598,"height":156,
 "title":{"text":"%CY","subtitle":"\u200b\u00a0\u00a0\u00a0\u00a0\u00a0\u00a0\u00a0\u00a0\u00a0\u00a0\u00a0\u00a0\u00a0\u00a0SOLIDS","dx":240},
 "layer":[
  {"data":{"name":"c19"},"mark":{"type":"circle","size":60,"color":"#1a1a1a","opacity":1},
   "encoding":{"x":{"field":"x","type":"quantitative","title":"Chromosome 19 position(Mb)","scale":{"domain":[-2.49,66.0],"nice":false,"zero":false},"axis":{"values":[0,10,20,30,40,50,60]}},
   "y":{"field":"y","type":"quantitative","title":"−log₁₀(p)","scale":{"domain":[0,6],"nice":false},"axis":{"values":[0,1,2,3,4,5,6]}}}},
  {"data":{"values":[{"x":1.82,"y":4.55,"lab":"ARS-BFGL-NGS-102974\n(1,822,133bp)"}]},
   "layer":[
    {"mark":{"type":"rule","color":"#ff2a2a","strokeWidth":1},"encoding":{"y":{"datum":4.33}}},
    {"mark":{"type":"circle","size":56,"color":"#00cd00","opacity":1},"encoding":{"x":{"field":"x","type":"quantitative","title":"Chromosome 19 position(Mb)"},"y":{"field":"y","type":"quantitative","title":"−log₁₀(p)"}}},
    {"mark":{"type":"text","font":"Liberation Serif","fontWeight":"bold","fontSize":12.5,"lineBreak":"\n","lineHeight":14,"align":"center","baseline":"middle","dx":72,"color":"#000"},"encoding":{"x":{"field":"x","type":"quantitative","title":"Chromosome 19 position(Mb)"},"y":{"datum":5.2},"text":{"field":"lab"}}}
   ]}
 ]},
{"width":598,"height":156,
 "title":{"text":"%CY","subtitle":"\u200b\u00a0\u00a0\u00a0\u00a0\u00a0\u00a0\u00a0\u00a0\u00a0\u00a0\u00a0\u00a0\u00a0\u00a0SOLIDS","dx":236},
 "layer":[
  {"data":{"name":"c27"},"mark":{"type":"circle","size":60,"color":"#1a1a1a","opacity":1},
   "encoding":{"x":{"field":"x","type":"quantitative","title":"Chromosome 27 position(Mb)","scale":{"domain":[-2.1,47.6],"nice":false,"zero":false},"axis":{"values":[0,10,20,30,40]}},
   "y":{"field":"y","type":"quantitative","title":"−log₁₀(p)","scale":{"domain":[0,6],"nice":false},"axis":{"values":[0,1,2,3,4,5,6]}}}},
  {"data":{"values":[{"x":42.12,"y":4.83,"lab":"ARS-BFGL-NGS-87845\n(42,118,037bp)"}]},
   "layer":[
    {"mark":{"type":"rule","color":"#ff2a2a","strokeWidth":1},"encoding":{"y":{"datum":4.33}}},
    {"mark":{"type":"circle","size":56,"color":"#00cd00","opacity":1},"encoding":{"x":{"field":"x","type":"quantitative","title":"Chromosome 27 position(Mb)"},"y":{"field":"y","type":"quantitative","title":"−log₁₀(p)"}}},
    {"mark":{"type":"text","font":"Liberation Serif","fontWeight":"bold","fontSize":12.5,"lineBreak":"\n","lineHeight":14,"align":"center","baseline":"middle","dx":-61,"color":"#000"},"encoding":{"x":{"field":"x","type":"quantitative","title":"Chromosome 27 position(Mb)"},"y":{"datum":5.2},"text":{"field":"lab"}}}
   ]}
 ]},
{"width":598,"height":156,
 "title":{"text":"%CY","subtitle":"\u200b\u00a0\u00a0\u00a0\u00a0\u00a0\u00a0\u00a0\u00a0\u00a0\u00a0\u00a0\u00a0\u00a0\u00a0WATER","dx":240},
 "layer":[
  {"data":{"name":"c28"},"mark":{"type":"circle","size":60,"color":"#1a1a1a","opacity":1},
   "encoding":{"x":{"field":"x","type":"quantitative","title":"Chromosome 28 position(Mb)","scale":{"domain":[-2.32,47.87],"nice":false,"zero":false},"axis":{"values":[0,10,20,30,40]}},
   "y":{"field":"y","type":"quantitative","title":"−log₁₀(p)","scale":{"domain":[0,6],"nice":false},"axis":{"values":[0,1,2,3,4,5,6]}}}},
  {"data":{"values":[{"x":38.45,"y":4.8,"lab":"Hapmap48306-BTA-36540\n(38,449,335bp)"}]},
   "layer":[
    {"mark":{"type":"rule","color":"#ff2a2a","strokeWidth":1},"encoding":{"y":{"datum":4.33}}},
    {"mark":{"type":"circle","size":56,"color":"#00cd00","opacity":1},"encoding":{"x":{"field":"x","type":"quantitative","title":"Chromosome 28 position(Mb)"},"y":{"field":"y","type":"quantitative","title":"−log₁₀(p)"}}},
    {"mark":{"type":"text","font":"Liberation Serif","fontWeight":"bold","fontSize":12.5,"lineBreak":"\n","lineHeight":14,"align":"center","baseline":"middle","dx":-77,"color":"#000"},"encoding":{"x":{"field":"x","type":"quantitative","title":"Chromosome 28 position(Mb)"},"y":{"datum":5.2},"text":{"field":"lab"}}}
   ]}
 ]}
],
"config":{
 "view":{"stroke":null},
 "title":{"font":"Liberation Serif","fontSize":25,"fontWeight":"bold","subtitleFont":"Liberation Serif","subtitleFontSize":18,"subtitleFontWeight":"bold","color":"#000","subtitleColor":"#000","anchor":"start","frame":"group","offset":-6,"subtitlePadding":-15},
 "axis":{"labelFont":"Liberation Serif","titleFont":"Liberation Serif","labelColor":"#000","titleColor":"#000","domainColor":"#000","tickColor":"#000","grid":false,"titleFontWeight":"normal","labelFontSize":15},
 "axisX":{"titleFontSize":15,"tickSize":2,"labelPadding":-1,"titlePadding":-4,"labelFlush":false},
 "axisY":{"titleFontSize":16,"tickSize":3,"labelPadding":2,"titlePadding":4}
}
}
